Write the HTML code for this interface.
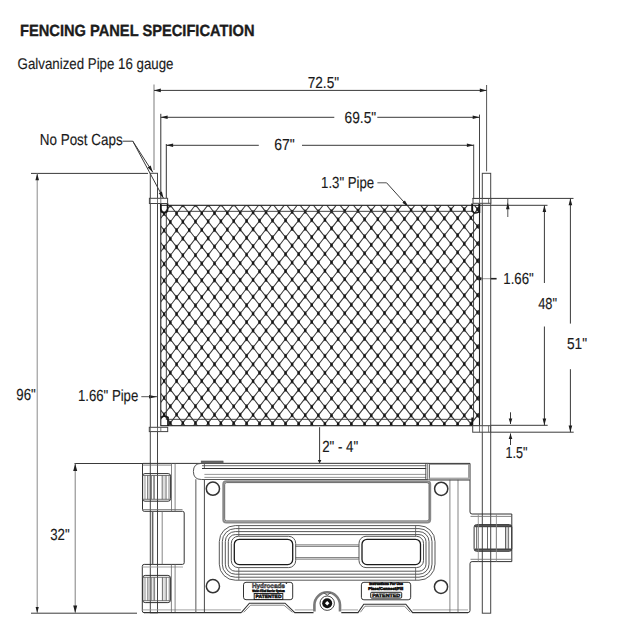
<!DOCTYPE html>
<html><head><meta charset="utf-8"><style>
html,body{margin:0;padding:0;background:#fff;}
svg{display:block;font-family:"Liberation Sans", sans-serif;}
</style></head><body>
<svg width="617" height="622" viewBox="0 0 617 622" text-rendering="geometricPrecision">
<rect width="617" height="622" fill="#fff"/>
<text x="20.00" y="36.00" font-size="16.2" font-weight="bold" fill="#1c1c1c" stroke="#1c1c1c" stroke-width="0.35" textLength="234.50" lengthAdjust="spacingAndGlyphs">FENCING PANEL SPECIFICATION</text>
<text x="17.60" y="68.60" font-size="15.5" font-weight="normal" fill="#1c1c1c" stroke="#1c1c1c" stroke-width="0.15" textLength="155.90" lengthAdjust="spacingAndGlyphs">Galvanized Pipe 16 gauge</text>
<text x="307.80" y="87.70" font-size="16.0" font-weight="normal" fill="#1a1a1a" stroke="#1a1a1a" stroke-width="0.15" textLength="31.20" lengthAdjust="spacingAndGlyphs">72.5&quot;</text>
<text x="344.60" y="122.70" font-size="16.0" font-weight="normal" fill="#1a1a1a" stroke="#1a1a1a" stroke-width="0.15" textLength="31.60" lengthAdjust="spacingAndGlyphs">69.5&quot;</text>
<text x="274.30" y="149.60" font-size="16.0" font-weight="normal" fill="#1a1a1a" stroke="#1a1a1a" stroke-width="0.15" textLength="20.50" lengthAdjust="spacingAndGlyphs">67&quot;</text>
<text x="39.80" y="145.40" font-size="16.0" font-weight="normal" fill="#1a1a1a" stroke="#1a1a1a" stroke-width="0.15" textLength="82.80" lengthAdjust="spacingAndGlyphs">No Post Caps</text>
<text x="321.10" y="188.10" font-size="16.0" font-weight="normal" fill="#1a1a1a" stroke="#1a1a1a" stroke-width="0.15" textLength="53.10" lengthAdjust="spacingAndGlyphs">1.3&quot; Pipe</text>
<text x="503.30" y="284.10" font-size="16.0" font-weight="normal" fill="#1a1a1a" stroke="#1a1a1a" stroke-width="0.15" textLength="30.50" lengthAdjust="spacingAndGlyphs">1.66&quot;</text>
<text x="538.20" y="308.50" font-size="16.0" font-weight="normal" fill="#1a1a1a" stroke="#1a1a1a" stroke-width="0.15" textLength="18.80" lengthAdjust="spacingAndGlyphs">48&quot;</text>
<text x="567.00" y="348.90" font-size="16.0" font-weight="normal" fill="#1a1a1a" stroke="#1a1a1a" stroke-width="0.15" textLength="20.10" lengthAdjust="spacingAndGlyphs">51&quot;</text>
<text x="16.30" y="399.70" font-size="16.0" font-weight="normal" fill="#1a1a1a" stroke="#1a1a1a" stroke-width="0.15" textLength="19.50" lengthAdjust="spacingAndGlyphs">96&quot;</text>
<text x="77.90" y="401.30" font-size="16.0" font-weight="normal" fill="#1a1a1a" stroke="#1a1a1a" stroke-width="0.15" textLength="60.40" lengthAdjust="spacingAndGlyphs">1.66&quot; Pipe</text>
<text x="322.20" y="451.80" font-size="16.0" font-weight="normal" fill="#1a1a1a" stroke="#1a1a1a" stroke-width="0.15" textLength="36.00" lengthAdjust="spacingAndGlyphs">2&quot; - 4&quot;</text>
<text x="505.60" y="457.50" font-size="16.0" font-weight="normal" fill="#1a1a1a" stroke="#1a1a1a" stroke-width="0.15" textLength="22.00" lengthAdjust="spacingAndGlyphs">1.5&quot;</text>
<text x="50.20" y="539.70" font-size="16.0" font-weight="normal" fill="#1a1a1a" stroke="#1a1a1a" stroke-width="0.15" textLength="19.40" lengthAdjust="spacingAndGlyphs">32&quot;</text>
<line x1="154.00" y1="84.60" x2="154.00" y2="170.00" stroke="#9a9a9a" stroke-width="1.3" />
<line x1="486.60" y1="85.00" x2="486.60" y2="171.30" stroke="#555" stroke-width="1.0" />
<line x1="154.00" y1="90.40" x2="486.60" y2="90.40" stroke="#3a3a3a" stroke-width="1.0" />
<polygon points="154.00,90.40 160.80,88.60 160.80,92.20" fill="#1e1e1e"/>
<polygon points="486.60,90.40 479.80,92.20 479.80,88.60" fill="#1e1e1e"/>
<line x1="160.80" y1="113.80" x2="160.80" y2="198.30" stroke="#333" stroke-width="1.0" />
<line x1="479.50" y1="114.60" x2="479.50" y2="198.50" stroke="#444" stroke-width="1.0" />
<line x1="160.80" y1="117.30" x2="334.30" y2="117.30" stroke="#3a3a3a" stroke-width="1.0" />
<line x1="377.30" y1="117.30" x2="479.50" y2="117.30" stroke="#3a3a3a" stroke-width="1.0" />
<polygon points="160.80,117.30 167.60,115.50 167.60,119.10" fill="#1e1e1e"/>
<polygon points="479.50,117.30 472.70,119.10 472.70,115.50" fill="#1e1e1e"/>
<line x1="166.30" y1="144.00" x2="166.30" y2="198.30" stroke="#333" stroke-width="1.0" />
<line x1="473.70" y1="144.50" x2="473.70" y2="198.50" stroke="#444" stroke-width="1.0" />
<line x1="166.30" y1="145.30" x2="258.80" y2="145.30" stroke="#3a3a3a" stroke-width="1.0" />
<line x1="302.00" y1="145.30" x2="473.70" y2="145.30" stroke="#3a3a3a" stroke-width="1.0" />
<polygon points="166.30,145.30 173.10,143.50 173.10,147.10" fill="#1e1e1e"/>
<polygon points="473.70,145.30 466.90,147.10 466.90,143.50" fill="#1e1e1e"/>
<line x1="31.00" y1="173.40" x2="148.00" y2="173.40" stroke="#3a3a3a" stroke-width="1.0" />
<line x1="37.20" y1="173.40" x2="37.20" y2="612.80" stroke="#8a8a8a" stroke-width="1.0" />
<polygon points="37.20,173.40 39.00,180.20 35.40,180.20" fill="#1e1e1e"/>
<polygon points="37.20,613.00 35.60,607.00 38.80,607.00" fill="#1e1e1e"/>
<line x1="31.00" y1="613.20" x2="137.00" y2="613.20" stroke="#3a3a3a" stroke-width="1.0" />
<line x1="74.50" y1="463.50" x2="143.00" y2="463.50" stroke="#3a3a3a" stroke-width="1.0" />
<line x1="75.20" y1="463.50" x2="75.20" y2="612.80" stroke="#808080" stroke-width="1.0" />
<polygon points="75.20,463.50 77.20,471.00 73.20,471.00" fill="#1e1e1e"/>
<polygon points="75.20,613.00 73.20,605.50 77.20,605.50" fill="#1e1e1e"/>
<line x1="479.00" y1="205.30" x2="547.50" y2="205.30" stroke="#3a3a3a" stroke-width="1.0" />
<line x1="490.60" y1="425.30" x2="547.70" y2="425.30" stroke="#3a3a3a" stroke-width="1.0" />
<line x1="544.40" y1="205.30" x2="544.40" y2="283.00" stroke="#3a3a3a" stroke-width="1.0" />
<line x1="544.40" y1="326.50" x2="544.40" y2="425.30" stroke="#3a3a3a" stroke-width="1.0" />
<polygon points="544.40,205.30 546.20,212.10 542.60,212.10" fill="#1e1e1e"/>
<polygon points="544.40,425.30 542.60,418.50 546.20,418.50" fill="#1e1e1e"/>
<line x1="472.50" y1="198.40" x2="573.50" y2="198.40" stroke="#3a3a3a" stroke-width="1.0" />
<line x1="490.60" y1="432.20" x2="573.70" y2="432.20" stroke="#3a3a3a" stroke-width="1.0" />
<line x1="570.40" y1="198.40" x2="570.40" y2="323.60" stroke="#3a3a3a" stroke-width="1.0" />
<line x1="570.40" y1="369.20" x2="570.40" y2="432.20" stroke="#3a3a3a" stroke-width="1.0" />
<polygon points="570.40,198.40 572.20,205.20 568.60,205.20" fill="#1e1e1e"/>
<polygon points="570.40,432.20 568.60,425.40 572.20,425.40" fill="#1e1e1e"/>
<line x1="507.80" y1="199.00" x2="507.80" y2="217.00" stroke="#555" stroke-width="1.0" />
<polygon points="507.80,202.50 509.60,209.30 506.00,209.30" fill="#1e1e1e"/>
<line x1="510.50" y1="412.30" x2="510.50" y2="424.00" stroke="#3a3a3a" stroke-width="1.0" />
<polygon points="510.50,424.00 508.70,418.50 512.30,418.50" fill="#1e1e1e"/>
<line x1="510.50" y1="433.50" x2="510.50" y2="445.00" stroke="#3a3a3a" stroke-width="1.0" />
<polygon points="510.50,433.50 512.30,439.00 508.70,439.00" fill="#1e1e1e"/>
<line x1="480.50" y1="278.70" x2="490.40" y2="278.70" stroke="#999" stroke-width="1.0" />
<line x1="490.40" y1="278.70" x2="496.60" y2="278.70" stroke="#222" stroke-width="1.6" />
<polygon points="476.40,278.70 481.40,276.90 481.40,280.50" fill="#1e1e1e"/>
<line x1="141.30" y1="396.70" x2="157.00" y2="396.70" stroke="#555" stroke-width="1.0" />
<polygon points="157.00,396.70 149.00,398.40 149.00,395.00" fill="#1e1e1e"/>
<line x1="122.50" y1="141.20" x2="132.80" y2="141.20" stroke="#3a3a3a" stroke-width="1.0" />
<line x1="132.80" y1="141.20" x2="152.80" y2="172.30" stroke="#3a3a3a" stroke-width="1.0" />
<polygon points="152.80,172.30 147.61,167.55 150.64,165.61" fill="#1e1e1e"/>
<line x1="132.80" y1="141.20" x2="163.50" y2="198.30" stroke="#3a3a3a" stroke-width="1.0" />
<polygon points="163.50,198.30 158.69,193.16 161.87,191.46" fill="#1e1e1e"/>
<line x1="377.40" y1="182.80" x2="386.60" y2="182.80" stroke="#555" stroke-width="1.0" />
<line x1="386.60" y1="182.80" x2="409.00" y2="207.60" stroke="#3a3a3a" stroke-width="1.0" />
<polygon points="409.00,207.60 402.38,202.80 404.90,200.52" fill="#1e1e1e"/>
<line x1="319.60" y1="427.20" x2="319.60" y2="462.00" stroke="#3a3a3a" stroke-width="1.0" />
<polygon points="319.60,463.40 317.80,460.00 321.40,460.00" fill="#1e1e1e"/>
<clipPath id="mc"><rect x="160.8" y="205.3" width="318.7" height="220.39999999999998"/></clipPath>
<rect x="160.8" y="205.3" width="318.7" height="220.39999999999998" fill="#383838"/>
<path d="M164.10 200.67L167.46 205.17L164.10 209.76L160.77 205.26ZM176.59 200.48L179.97 204.99L176.59 209.60L173.22 205.08ZM189.15 200.28L192.57 204.81L189.15 209.43L185.75 204.91ZM201.80 200.09L205.25 204.63L201.80 209.27L198.37 204.73ZM214.51 199.89L217.99 204.45L214.51 209.10L211.05 204.55ZM227.30 199.70L230.80 204.27L227.30 208.93L223.81 204.37ZM240.14 199.51L243.68 204.08L240.14 208.76L236.63 204.18ZM253.05 199.31L256.61 203.90L253.05 208.59L249.51 204.00ZM266.02 199.12L269.59 203.72L266.02 208.42L262.45 203.82ZM279.03 198.92L282.63 203.53L279.03 208.24L275.45 203.63ZM292.09 198.73L295.71 203.34L292.09 208.06L288.49 203.45ZM305.20 198.54L308.83 203.16L305.20 207.88L301.58 203.26ZM318.34 198.34L321.99 202.97L318.34 207.70L314.71 203.08ZM331.52 198.15L335.18 202.78L331.52 207.52L327.87 202.89ZM344.73 197.96L348.40 202.60L344.73 207.34L341.07 202.70ZM357.96 197.77L361.64 202.41L357.96 207.16L354.29 202.51ZM371.22 197.57L374.90 202.22L371.22 206.97L367.54 202.32ZM384.49 197.38L388.18 202.03L384.49 206.79L380.80 202.14ZM397.78 197.19L401.47 201.84L397.78 206.60L394.08 201.95ZM411.07 197.00L414.77 201.65L411.07 206.41L407.37 201.76ZM424.37 196.81L428.07 201.47L424.37 206.22L420.67 201.57ZM437.67 196.63L441.37 201.28L437.67 206.03L433.97 201.38ZM450.96 196.44L454.66 201.09L450.96 205.84L447.27 201.19ZM464.25 196.25L467.94 200.90L464.25 205.65L460.56 201.00ZM477.53 196.06L481.21 200.71L477.53 205.46L473.84 200.82ZM157.89 209.23L161.23 213.71L157.89 218.25L154.58 213.81ZM170.34 209.03L173.70 213.54L170.34 218.09L166.99 213.63ZM182.86 208.84L186.26 213.36L182.86 217.93L179.48 213.45ZM195.47 208.64L198.90 213.18L195.47 217.77L192.05 213.27ZM208.15 208.45L211.61 213.00L208.15 217.61L204.70 213.10ZM220.90 208.26L224.39 212.82L220.90 217.45L217.42 212.91ZM233.71 208.06L237.23 212.63L233.71 217.29L230.21 212.73ZM246.59 207.87L250.13 212.45L246.59 217.12L243.06 212.55ZM259.53 207.67L263.09 212.27L259.53 216.95L255.98 212.37ZM272.52 207.48L276.10 212.08L272.52 216.78L268.94 212.18ZM285.56 207.29L289.16 211.90L285.56 216.61L281.96 212.00ZM298.64 207.09L302.26 211.71L298.64 216.44L295.03 211.81ZM311.77 206.90L315.40 211.52L311.77 216.27L308.14 211.63ZM324.93 206.71L328.58 211.34L324.93 216.09L321.28 211.44ZM338.12 206.51L341.78 211.15L338.12 215.92L334.46 211.25ZM351.34 206.32L355.02 210.96L351.34 215.74L347.67 211.07ZM364.59 206.13L368.27 210.77L364.59 215.56L360.91 210.88ZM377.85 205.94L381.54 210.58L377.85 215.38L374.17 210.69ZM391.13 205.75L394.83 210.40L391.13 215.20L387.44 210.50ZM404.42 205.56L408.12 210.21L404.42 215.01L400.73 210.31ZM417.72 205.37L421.42 210.02L417.72 214.83L414.02 210.12ZM431.02 205.18L434.72 209.83L431.02 214.65L427.32 209.93ZM444.32 204.99L448.01 209.64L444.32 214.46L440.62 209.75ZM457.61 204.80L461.30 209.45L457.61 214.28L453.91 209.56ZM470.89 204.62L474.58 209.26L470.89 214.09L467.20 209.37ZM484.16 204.43L487.84 209.07L484.16 213.90L480.47 209.18ZM164.10 217.55L167.46 222.00L164.10 226.54L160.77 222.09ZM176.59 217.36L179.97 221.83L176.59 226.39L173.22 221.92ZM189.15 217.17L192.57 221.66L189.15 226.24L185.75 221.75ZM201.80 216.98L205.25 221.48L201.80 226.09L198.37 221.58ZM214.51 216.79L217.99 221.31L214.51 225.94L211.05 221.41ZM227.30 216.60L230.80 221.14L227.30 225.78L223.81 221.24ZM240.14 216.41L243.68 220.97L240.14 225.63L236.63 221.07ZM253.05 216.22L256.61 220.80L253.05 225.47L249.51 220.89ZM266.02 216.03L269.59 220.63L266.02 225.32L262.45 220.72ZM279.03 215.84L282.63 220.45L279.03 225.16L275.45 220.55ZM292.09 215.65L295.71 220.28L292.09 225.00L288.49 220.37ZM305.20 215.46L308.83 220.10L305.20 224.84L301.58 220.20ZM318.34 215.28L321.99 219.93L318.34 224.67L314.71 220.02ZM331.52 215.09L335.18 219.75L331.52 224.51L327.87 219.85ZM344.73 214.90L348.40 219.57L344.73 224.34L341.07 219.67ZM357.96 214.71L361.64 219.39L357.96 224.17L354.29 219.49ZM371.22 214.52L374.90 219.21L371.22 224.00L367.54 219.31ZM384.49 214.34L388.18 219.03L384.49 223.83L380.80 219.13ZM397.78 214.15L401.47 218.85L397.78 223.65L394.08 218.95ZM411.07 213.96L414.77 218.67L411.07 223.48L407.37 218.77ZM424.37 213.78L428.07 218.49L424.37 223.30L420.67 218.59ZM437.67 213.59L441.37 218.31L437.67 223.13L433.97 218.41ZM450.96 213.41L454.66 218.13L450.96 222.95L447.27 218.23ZM464.25 213.22L467.94 217.95L464.25 222.77L460.56 218.05ZM477.53 213.04L481.21 217.77L477.53 222.59L473.84 217.87ZM157.89 226.01L161.23 230.45L157.89 234.98L154.58 230.54ZM170.34 225.83L173.70 230.29L170.34 234.84L166.99 230.38ZM182.86 225.64L186.26 230.13L182.86 234.70L179.48 230.21ZM195.47 225.46L198.90 229.96L195.47 234.55L192.05 230.05ZM208.15 225.28L211.61 229.80L208.15 234.41L204.70 229.89ZM220.90 225.10L224.39 229.64L220.90 234.27L217.42 229.73ZM233.71 224.92L237.23 229.48L233.71 234.13L230.21 229.57ZM246.59 224.75L250.13 229.32L246.59 233.98L243.06 229.41ZM259.53 224.57L263.09 229.16L259.53 233.84L255.98 229.25ZM272.52 224.39L276.10 229.00L272.52 233.69L268.94 229.08ZM285.56 224.21L289.16 228.83L285.56 233.54L281.96 228.92ZM298.64 224.03L302.26 228.67L298.64 233.39L295.03 228.76ZM311.77 223.86L315.40 228.50L311.77 233.24L308.14 228.59ZM324.93 223.68L328.58 228.34L324.93 233.09L321.28 228.43ZM338.12 223.50L341.78 228.17L338.12 232.94L334.46 228.26ZM351.34 223.33L355.02 228.01L351.34 232.78L347.67 228.10ZM364.59 223.15L368.27 227.83L364.59 232.62L360.91 227.93ZM377.85 222.97L381.54 227.66L377.85 232.45L374.17 227.76ZM391.13 222.79L394.83 227.49L391.13 232.28L387.44 227.58ZM404.42 222.61L408.12 227.31L404.42 232.12L400.73 227.41ZM417.72 222.43L421.42 227.14L417.72 231.95L414.02 227.24ZM431.02 222.25L434.72 226.97L431.02 231.78L427.32 227.06ZM444.32 222.07L448.01 226.79L444.32 231.61L440.62 226.89ZM457.61 221.90L461.30 226.62L457.61 231.44L453.91 226.72ZM470.89 221.72L474.58 226.45L470.89 231.27L467.20 226.54ZM484.16 221.55L487.84 226.28L484.16 231.10L480.47 226.37ZM164.10 234.29L167.46 238.75L164.10 243.28L160.77 238.83ZM176.59 234.11L179.97 238.59L176.59 243.15L173.22 238.67ZM189.15 233.94L192.57 238.43L189.15 243.01L185.75 238.52ZM201.80 233.76L205.25 238.28L201.80 242.88L198.37 238.36ZM214.51 233.60L217.99 238.13L214.51 242.75L211.05 238.21ZM227.30 233.43L230.80 237.98L227.30 242.62L223.81 238.06ZM240.14 233.26L243.68 237.83L240.14 242.48L236.63 237.91ZM253.05 233.09L256.61 237.68L253.05 242.35L249.51 237.76ZM266.02 232.93L269.59 237.53L266.02 242.21L262.45 237.61ZM279.03 232.76L282.63 237.38L279.03 242.08L275.45 237.46ZM292.09 232.59L295.71 237.22L292.09 241.94L288.49 237.31ZM305.20 232.43L308.83 237.07L305.20 241.80L301.58 237.15ZM318.34 232.26L321.99 236.92L318.34 241.66L314.71 237.00ZM331.52 232.09L335.18 236.76L331.52 241.52L327.87 236.85ZM344.73 231.93L348.40 236.61L344.73 241.37L341.07 236.69ZM357.96 231.76L361.64 236.44L357.96 241.22L354.29 236.54ZM371.22 231.59L374.90 236.28L371.22 241.07L367.54 236.37ZM384.49 231.41L388.18 236.12L384.49 240.91L380.80 236.21ZM397.78 231.24L401.47 235.95L397.78 240.75L394.08 236.04ZM411.07 231.07L414.77 235.78L411.07 240.59L407.37 235.88ZM424.37 230.90L428.07 235.62L424.37 240.43L420.67 235.71ZM437.67 230.73L441.37 235.45L437.67 240.27L433.97 235.55ZM450.96 230.56L454.66 235.29L450.96 240.11L447.27 235.38ZM464.25 230.40L467.94 235.12L464.25 239.94L460.56 235.22ZM477.53 230.23L481.21 234.96L477.53 239.78L473.84 235.05ZM157.89 242.75L161.23 247.19L157.89 251.72L154.58 247.27ZM170.34 242.58L173.70 247.04L170.34 251.59L166.99 247.12ZM182.86 242.41L186.26 246.90L182.86 251.46L179.48 246.98ZM195.47 242.24L198.90 246.75L195.47 251.33L192.05 246.83ZM208.15 242.08L211.61 246.61L208.15 251.21L204.70 246.68ZM220.90 241.92L224.39 246.47L220.90 251.09L217.42 246.54ZM233.71 241.77L237.23 246.33L233.71 250.97L230.21 246.41ZM246.59 241.61L250.13 246.19L246.59 250.85L243.06 246.27ZM259.53 241.45L263.09 246.05L259.53 250.72L255.98 246.13ZM272.52 241.30L276.10 245.91L272.52 250.60L268.94 245.99ZM285.56 241.14L289.16 245.77L285.56 250.47L281.96 245.85ZM298.64 240.99L302.26 245.63L298.64 250.34L295.03 245.70ZM311.77 240.83L315.40 245.48L311.77 250.22L308.14 245.56ZM324.93 240.68L328.58 245.34L324.93 250.09L321.28 245.42ZM338.12 240.52L341.78 245.20L338.12 249.95L334.46 245.28ZM351.34 240.37L355.02 245.05L351.34 249.82L347.67 245.13ZM364.59 240.20L368.27 244.89L364.59 249.67L360.91 244.98ZM377.85 240.04L381.54 244.74L377.85 249.52L374.17 244.82ZM391.13 239.87L394.83 244.58L391.13 249.37L387.44 244.67ZM404.42 239.71L408.12 244.42L404.42 249.22L400.73 244.51ZM417.72 239.55L421.42 244.26L417.72 249.07L414.02 244.35ZM431.02 239.38L434.72 244.11L431.02 248.91L427.32 244.19ZM444.32 239.22L448.01 243.95L444.32 248.76L440.62 244.04ZM457.61 239.06L461.30 243.79L457.61 248.61L453.91 243.88ZM470.89 238.90L474.58 243.63L470.89 248.45L467.20 243.72ZM484.16 238.75L487.84 243.48L484.16 248.30L480.47 243.56ZM164.10 251.03L167.46 255.49L164.10 260.03L160.77 255.57ZM176.59 250.87L179.97 255.35L176.59 259.91L173.22 255.43ZM189.15 250.71L192.57 255.21L189.15 259.79L185.75 255.29ZM201.80 250.55L205.25 255.07L201.80 259.66L198.37 255.14ZM214.51 250.41L217.99 254.95L214.51 259.56L211.05 255.02ZM227.30 250.26L230.80 254.82L227.30 259.45L223.81 254.89ZM240.14 250.11L243.68 254.69L240.14 259.34L236.63 254.76ZM253.05 249.97L256.61 254.56L253.05 259.22L249.51 254.63ZM266.02 249.82L269.59 254.43L266.02 259.11L262.45 254.50ZM279.03 249.68L282.63 254.30L279.03 259.00L275.45 254.37ZM292.09 249.53L295.71 254.17L292.09 258.88L288.49 254.24ZM305.20 249.39L308.83 254.04L305.20 258.76L301.58 254.11ZM318.34 249.25L321.99 253.91L318.34 258.64L314.71 253.98ZM331.52 249.10L335.18 253.78L331.52 258.52L327.87 253.85ZM344.73 248.96L348.40 253.64L344.73 258.40L341.07 253.72ZM357.96 248.81L361.64 253.50L357.96 258.27L354.29 253.58ZM371.22 248.65L374.90 253.35L371.22 258.13L367.54 253.43ZM384.49 248.49L388.18 253.20L384.49 257.99L380.80 253.28ZM397.78 248.34L401.47 253.05L397.78 257.84L394.08 253.13ZM411.07 248.18L414.77 252.90L411.07 257.70L407.37 252.98ZM424.37 248.03L428.07 252.75L424.37 257.55L420.67 252.83ZM437.67 247.88L441.37 252.60L437.67 257.41L433.97 252.68ZM450.96 247.72L454.66 252.45L450.96 257.26L447.27 252.53ZM464.25 247.57L467.94 252.30L464.25 257.12L460.56 252.38ZM477.53 247.42L481.21 252.15L477.53 256.97L473.84 252.24ZM157.89 259.48L161.23 263.93L157.89 268.45L154.58 264.00ZM170.34 259.33L173.70 263.80L170.34 268.34L166.99 263.87ZM182.86 259.18L186.26 263.67L182.86 268.23L179.48 263.74ZM195.47 259.02L198.90 263.53L195.47 268.11L192.05 263.60ZM208.15 258.88L211.61 263.41L208.15 268.01L204.70 263.48ZM220.90 258.74L224.39 263.30L220.90 267.91L217.42 263.36ZM233.71 258.61L237.23 263.18L233.71 267.81L230.21 263.24ZM246.59 258.47L250.13 263.06L246.59 267.71L243.06 263.13ZM259.53 258.34L263.09 262.94L259.53 267.61L255.98 263.01ZM272.52 258.20L276.10 262.82L272.52 267.51L268.94 262.89ZM285.56 258.07L289.16 262.70L285.56 267.40L281.96 262.77ZM298.64 257.94L302.26 262.58L298.64 267.30L295.03 262.65ZM311.77 257.80L315.40 262.46L311.77 267.19L308.14 262.53ZM324.93 257.67L328.58 262.34L324.93 267.08L321.28 262.41ZM338.12 257.54L341.78 262.22L338.12 266.97L334.46 262.29ZM351.34 257.41L355.02 262.09L351.34 266.86L347.67 262.17ZM364.59 257.26L368.27 261.95L364.59 266.73L360.91 262.03ZM377.85 257.11L381.54 261.81L377.85 266.59L374.17 261.89ZM391.13 256.96L394.83 261.67L391.13 266.46L387.44 261.75ZM404.42 256.81L408.12 261.53L404.42 266.32L400.73 261.61ZM417.72 256.67L421.42 261.39L417.72 266.19L414.02 261.47ZM431.02 256.52L434.72 261.24L431.02 266.05L427.32 261.32ZM444.32 256.37L448.01 261.10L444.32 265.91L440.62 261.18ZM457.61 256.23L461.30 260.96L457.61 265.77L453.91 261.04ZM470.89 256.09L474.58 260.82L470.89 265.63L467.20 260.90ZM484.16 255.94L487.84 260.68L484.16 265.49L480.47 260.76ZM164.10 267.78L167.46 272.24L164.10 276.77L160.77 272.31ZM176.59 267.63L179.97 272.11L176.59 276.66L173.22 272.18ZM189.15 267.49L192.57 271.99L189.15 276.56L185.75 272.06ZM201.80 267.34L205.25 271.87L201.80 276.45L198.37 271.93ZM214.51 267.22L217.99 271.76L214.51 276.37L211.05 271.82ZM227.30 267.09L230.80 271.66L227.30 276.28L223.81 271.71ZM240.14 266.97L243.68 271.55L240.14 276.19L236.63 271.61ZM253.05 266.84L256.61 271.44L253.05 276.10L249.51 271.50ZM266.02 266.72L269.59 271.33L266.02 276.01L262.45 271.39ZM279.03 266.60L282.63 271.23L279.03 275.91L275.45 271.29ZM292.09 266.47L295.71 271.12L292.09 275.82L288.49 271.18ZM305.20 266.35L308.83 271.01L305.20 275.72L301.58 271.07ZM318.34 266.23L321.99 270.90L318.34 275.63L314.71 270.96ZM331.52 266.11L335.18 270.79L331.52 275.53L327.87 270.85ZM344.73 265.99L348.40 270.68L344.73 275.43L341.07 270.74ZM357.96 265.85L361.64 270.55L357.96 275.32L354.29 270.62ZM371.22 265.71L374.90 270.42L371.22 275.19L367.54 270.49ZM384.49 265.57L388.18 270.28L384.49 275.07L380.80 270.36ZM397.78 265.43L401.47 270.15L397.78 274.94L394.08 270.22ZM411.07 265.29L414.77 270.01L411.07 274.81L407.37 270.09ZM424.37 265.16L428.07 269.88L424.37 274.68L420.67 269.96ZM437.67 265.02L441.37 269.75L437.67 274.55L433.97 269.82ZM450.96 264.88L454.66 269.61L450.96 274.42L447.27 269.69ZM464.25 264.74L467.94 269.48L464.25 274.29L460.56 269.55ZM477.53 264.61L481.21 269.35L477.53 274.16L473.84 269.42ZM157.89 276.22L161.23 280.67L157.89 285.19L154.58 280.74ZM170.34 276.08L173.70 280.55L170.34 285.09L166.99 280.62ZM182.86 275.94L186.26 280.44L182.86 284.99L179.48 280.50ZM195.47 275.80L198.90 280.32L195.47 284.89L192.05 280.38ZM208.15 275.68L211.61 280.22L208.15 284.81L204.70 280.27ZM220.90 275.57L224.39 280.12L220.90 284.73L217.42 280.18ZM233.71 275.45L237.23 280.03L233.71 284.66L230.21 280.08ZM246.59 275.34L250.13 279.93L246.59 284.58L243.06 279.98ZM259.53 275.23L263.09 279.83L259.53 284.50L255.98 279.89ZM272.52 275.11L276.10 279.74L272.52 284.42L268.94 279.79ZM285.56 275.00L289.16 279.64L285.56 284.33L281.96 279.69ZM298.64 274.89L302.26 279.54L298.64 284.25L295.03 279.60ZM311.77 274.78L315.40 279.44L311.77 284.16L308.14 279.50ZM324.93 274.67L328.58 279.35L324.93 284.08L321.28 279.40ZM338.12 274.56L341.78 279.25L338.12 283.99L334.46 279.30ZM351.34 274.45L355.02 279.14L351.34 283.90L347.67 279.20ZM364.59 274.31L368.27 279.01L364.59 283.78L360.91 279.08ZM377.85 274.18L381.54 278.89L377.85 283.66L374.17 278.96ZM391.13 274.05L394.83 278.76L391.13 283.55L387.44 278.83ZM404.42 273.91L408.12 278.64L404.42 283.43L400.73 278.71ZM417.72 273.78L421.42 278.51L417.72 283.30L414.02 278.58ZM431.02 273.65L434.72 278.38L431.02 283.18L427.32 278.45ZM444.32 273.52L448.01 278.26L444.32 283.06L440.62 278.33ZM457.61 273.40L461.30 278.13L457.61 282.94L453.91 278.20ZM470.89 273.27L474.58 278.01L470.89 282.81L467.20 278.08ZM484.16 273.14L487.84 277.88L484.16 282.69L480.47 277.95ZM164.10 284.52L167.46 288.99L164.10 293.51L160.77 289.05ZM176.59 284.39L179.97 288.88L176.59 293.42L173.22 288.94ZM189.15 284.26L192.57 288.76L189.15 293.33L185.75 288.82ZM201.80 284.13L205.25 288.66L201.80 293.24L198.37 288.71ZM214.51 284.03L217.99 288.58L214.51 293.18L211.05 288.63ZM227.30 283.92L230.80 288.49L227.30 293.11L223.81 288.54ZM240.14 283.82L243.68 288.41L240.14 293.04L236.63 288.46ZM253.05 283.72L256.61 288.32L253.05 292.97L249.51 288.37ZM266.02 283.62L269.59 288.24L266.02 292.90L262.45 288.28ZM279.03 283.52L282.63 288.15L279.03 292.83L275.45 288.20ZM292.09 283.42L295.71 288.06L292.09 292.76L288.49 288.11ZM305.20 283.31L308.83 287.98L305.20 292.69L301.58 288.03ZM318.34 283.22L321.99 287.89L318.34 292.61L314.71 287.94ZM331.52 283.12L335.18 287.80L331.52 292.54L327.87 287.85ZM344.73 283.02L348.40 287.72L344.73 292.46L341.07 287.76ZM357.96 282.90L361.64 287.60L357.96 292.37L354.29 287.67ZM371.22 282.78L374.90 287.48L371.22 292.26L367.54 287.55ZM384.49 282.65L388.18 287.37L384.49 292.14L380.80 287.43ZM397.78 282.53L401.47 287.25L397.78 292.03L394.08 287.31ZM411.07 282.40L414.77 287.13L411.07 291.92L407.37 287.20ZM424.37 282.28L428.07 287.01L424.37 291.81L420.67 287.08ZM437.67 282.16L441.37 286.89L437.67 291.69L433.97 286.96ZM450.96 282.04L454.66 286.78L450.96 291.58L447.27 286.84ZM464.25 281.92L467.94 286.66L464.25 291.46L460.56 286.72ZM477.53 281.80L481.21 286.54L477.53 291.35L473.84 286.61ZM157.89 292.95L161.23 297.41L157.89 301.93L154.58 297.47ZM170.34 292.83L173.70 297.31L170.34 301.84L166.99 297.36ZM182.86 292.71L186.26 297.20L182.86 301.76L179.48 297.26ZM195.47 292.58L198.90 297.10L195.47 301.67L192.05 297.16ZM208.15 292.48L211.61 297.02L208.15 301.61L204.70 297.06ZM220.90 292.39L224.39 296.95L220.90 301.55L217.42 296.99ZM233.71 292.29L237.23 296.88L233.71 301.50L230.21 296.92ZM246.59 292.20L250.13 296.80L246.59 301.44L243.06 296.84ZM259.53 292.11L263.09 296.73L259.53 301.38L255.98 296.77ZM272.52 292.02L276.10 296.65L272.52 301.32L268.94 296.69ZM285.56 291.93L289.16 296.58L285.56 301.26L281.96 296.62ZM298.64 291.84L302.26 296.50L298.64 301.20L295.03 296.54ZM311.77 291.75L315.40 296.42L311.77 301.14L308.14 296.47ZM324.93 291.66L328.58 296.35L324.93 301.07L321.28 296.39ZM338.12 291.58L341.78 296.27L338.12 301.01L334.46 296.31ZM351.34 291.49L355.02 296.18L351.34 300.94L347.67 296.24ZM364.59 291.37L368.27 296.07L364.59 300.84L360.91 296.13ZM377.85 291.25L381.54 295.96L377.85 300.74L374.17 296.02ZM391.13 291.13L394.83 295.85L391.13 300.63L387.44 295.91ZM404.42 291.02L408.12 295.74L404.42 300.53L400.73 295.80ZM417.72 290.90L421.42 295.63L417.72 300.42L414.02 295.69ZM431.02 290.79L434.72 295.52L431.02 300.32L427.32 295.58ZM444.32 290.67L448.01 295.41L444.32 300.21L440.62 295.47ZM457.61 290.56L461.30 295.30L457.61 300.10L453.91 295.36ZM470.89 290.45L474.58 295.19L470.89 300.00L467.20 295.25ZM484.16 290.34L487.84 295.08L484.16 299.89L480.47 295.14ZM164.10 301.26L167.46 305.73L164.10 310.26L160.77 305.79ZM176.59 301.15L179.97 305.64L176.59 310.18L173.22 305.69ZM189.15 301.03L192.57 305.54L189.15 310.10L185.75 305.59ZM201.80 300.92L205.25 305.46L201.80 310.03L198.37 305.50ZM214.51 300.84L217.99 305.40L214.51 309.99L211.05 305.43ZM227.30 300.76L230.80 305.33L227.30 309.94L223.81 305.37ZM240.14 300.67L243.68 305.27L240.14 309.90L236.63 305.30ZM253.05 300.59L256.61 305.20L253.05 309.85L249.51 305.24ZM266.02 300.51L269.59 305.14L266.02 309.80L262.45 305.18ZM279.03 300.43L282.63 305.08L279.03 309.75L275.45 305.11ZM292.09 300.36L295.71 305.01L292.09 309.70L288.49 305.05ZM305.20 300.28L308.83 304.95L305.20 309.65L301.58 304.98ZM318.34 300.20L321.99 304.88L318.34 309.60L314.71 304.92ZM331.52 300.12L335.18 304.82L331.52 309.55L327.87 304.85ZM344.73 300.05L348.40 304.75L344.73 309.49L341.07 304.79ZM357.96 299.95L361.64 304.65L357.96 309.41L354.29 304.71ZM371.22 299.84L374.90 304.55L371.22 309.32L367.54 304.61ZM384.49 299.73L388.18 304.45L384.49 309.22L380.80 304.51ZM397.78 299.62L401.47 304.35L397.78 309.13L394.08 304.40ZM411.07 299.51L414.77 304.24L411.07 309.03L407.37 304.30ZM424.37 299.41L428.07 304.14L424.37 308.93L420.67 304.20ZM437.67 299.30L441.37 304.04L437.67 308.84L433.97 304.10ZM450.96 299.20L454.66 303.94L450.96 308.74L447.27 303.99ZM464.25 299.09L467.94 303.84L464.25 308.64L460.56 303.89ZM477.53 298.99L481.21 303.73L477.53 308.54L473.84 303.79ZM157.89 309.69L161.23 314.15L157.89 318.66L154.58 314.20ZM170.34 309.58L173.70 314.06L170.34 318.59L166.99 314.11ZM182.86 309.47L186.26 313.97L182.86 318.53L179.48 314.02ZM195.47 309.36L198.90 313.88L195.47 318.46L192.05 313.93ZM208.15 309.28L211.61 313.83L208.15 318.41L204.70 313.86ZM220.90 309.21L224.39 313.78L220.90 318.38L217.42 313.81ZM233.71 309.14L237.23 313.72L233.71 318.34L230.21 313.75ZM246.59 309.07L250.13 313.67L246.59 318.31L243.06 313.70ZM259.53 309.00L263.09 313.62L259.53 318.27L255.98 313.65ZM272.52 308.93L276.10 313.56L272.52 318.23L268.94 313.59ZM285.56 308.86L289.16 313.51L285.56 318.19L281.96 313.54ZM298.64 308.79L302.26 313.46L298.64 318.15L295.03 313.49ZM311.77 308.73L315.40 313.40L311.77 318.11L308.14 313.43ZM324.93 308.66L328.58 313.35L324.93 318.07L321.28 313.38ZM338.12 308.59L341.78 313.30L338.12 318.03L334.46 313.33ZM351.34 308.53L355.02 313.23L351.34 317.98L347.67 313.27ZM364.59 308.42L368.27 313.13L364.59 317.89L360.91 313.18ZM377.85 308.32L381.54 313.04L377.85 317.81L374.17 313.09ZM391.13 308.22L394.83 312.94L391.13 317.72L387.44 313.00ZM404.42 308.12L408.12 312.85L404.42 317.63L400.73 312.90ZM417.72 308.02L421.42 312.75L417.72 317.54L414.02 312.81ZM431.02 307.92L434.72 312.66L431.02 317.45L427.32 312.71ZM444.32 307.82L448.01 312.57L444.32 317.36L440.62 312.62ZM457.61 307.73L461.30 312.47L457.61 317.27L453.91 312.52ZM470.89 307.63L474.58 312.38L470.89 317.18L467.20 312.43ZM484.16 307.53L487.84 312.28L484.16 317.08L480.47 312.34ZM164.10 318.01L167.46 322.48L164.10 327.00L160.77 322.53ZM176.59 317.91L179.97 322.40L176.59 326.94L173.22 322.44ZM189.15 317.80L192.57 322.32L189.15 326.88L185.75 322.36ZM201.80 317.71L205.25 322.25L201.80 326.82L198.37 322.28ZM214.51 317.65L217.99 322.21L214.51 326.80L211.05 322.23ZM227.30 317.59L230.80 322.17L227.30 326.77L223.81 322.19ZM240.14 317.53L243.68 322.13L240.14 326.75L236.63 322.15ZM253.05 317.47L256.61 322.09L253.05 326.72L249.51 322.11ZM266.02 317.41L269.59 322.04L266.02 326.70L262.45 322.07ZM279.03 317.35L282.63 322.00L279.03 326.67L275.45 322.02ZM292.09 317.30L295.71 321.96L292.09 326.64L288.49 321.98ZM305.20 317.24L308.83 321.92L305.20 326.61L301.58 321.94ZM318.34 317.19L321.99 321.87L318.34 326.58L314.71 321.90ZM331.52 317.13L335.18 321.83L331.52 326.55L327.87 321.85ZM344.73 317.08L348.40 321.79L344.73 326.52L341.07 321.81ZM357.96 317.00L361.64 321.71L357.96 326.46L354.29 321.75ZM371.22 316.90L374.90 321.62L371.22 326.38L367.54 321.67ZM384.49 316.81L388.18 321.53L384.49 326.30L380.80 321.58ZM397.78 316.72L401.47 321.45L397.78 326.22L394.08 321.49ZM411.07 316.63L414.77 321.36L411.07 326.14L407.37 321.41ZM424.37 316.53L428.07 321.27L424.37 326.06L420.67 321.32ZM437.67 316.44L441.37 321.19L437.67 325.98L433.97 321.23ZM450.96 316.35L454.66 321.10L450.96 325.89L447.27 321.15ZM464.25 316.26L467.94 321.01L464.25 325.81L460.56 321.06ZM477.53 316.18L481.21 320.93L477.53 325.73L473.84 320.98ZM157.89 326.43L161.23 330.89L157.89 335.40L154.58 330.93ZM170.34 326.33L173.70 330.82L170.34 335.35L166.99 330.86ZM182.86 326.24L186.26 330.74L182.86 335.29L179.48 330.78ZM195.47 326.14L198.90 330.67L195.47 335.24L192.05 330.71ZM208.15 326.08L211.61 330.63L208.15 335.21L204.70 330.65ZM220.90 326.03L224.39 330.60L220.90 335.20L217.42 330.62ZM233.71 325.98L237.23 330.57L233.71 335.18L230.21 330.59ZM246.59 325.93L250.13 330.54L246.59 335.17L243.06 330.56ZM259.53 325.88L263.09 330.51L259.53 335.15L255.98 330.53ZM272.52 325.84L276.10 330.48L272.52 335.14L268.94 330.50ZM285.56 325.79L289.16 330.45L285.56 335.12L281.96 330.46ZM298.64 325.74L302.26 330.42L298.64 335.10L295.03 330.43ZM311.77 325.70L315.40 330.38L311.77 335.09L308.14 330.40ZM324.93 325.66L328.58 330.35L324.93 335.07L321.28 330.37ZM338.12 325.61L341.78 330.32L338.12 335.05L334.46 330.34ZM351.34 325.57L355.02 330.27L351.34 335.02L347.67 330.31ZM364.59 325.48L368.27 330.19L364.59 334.95L360.91 330.24ZM377.85 325.39L381.54 330.11L377.85 334.88L374.17 330.16ZM391.13 325.31L394.83 330.04L391.13 334.81L387.44 330.08ZM404.42 325.22L408.12 329.96L404.42 334.73L400.73 330.00ZM417.72 325.14L421.42 329.88L417.72 334.66L414.02 329.92ZM431.02 325.06L434.72 329.80L431.02 334.59L427.32 329.84ZM444.32 324.97L448.01 329.72L444.32 334.51L440.62 329.76ZM457.61 324.89L461.30 329.64L457.61 334.44L453.91 329.69ZM470.89 324.81L474.58 329.56L470.89 334.36L467.20 329.61ZM484.16 324.73L487.84 329.48L484.16 334.28L480.47 329.53ZM164.10 334.75L167.46 339.23L164.10 343.74L160.77 339.26ZM176.59 334.66L179.97 339.16L176.59 343.70L173.22 339.20ZM189.15 334.58L192.57 339.10L189.15 343.65L185.75 339.13ZM201.80 334.50L205.25 339.05L201.80 343.61L198.37 339.06ZM214.51 334.46L217.99 339.03L214.51 343.61L211.05 339.04ZM227.30 334.42L230.80 339.01L227.30 343.61L223.81 339.02ZM240.14 334.38L243.68 338.99L240.14 343.60L236.63 339.00ZM253.05 334.34L256.61 338.97L253.05 343.60L249.51 338.98ZM266.02 334.31L269.59 338.95L266.02 343.60L262.45 338.96ZM279.03 334.27L282.63 338.93L279.03 343.59L275.45 338.94ZM292.09 334.24L295.71 338.91L292.09 343.58L288.49 338.92ZM305.20 334.20L308.83 338.88L305.20 343.58L301.58 338.90ZM318.34 334.17L321.99 338.86L318.34 343.57L314.71 338.88ZM331.52 334.14L335.18 338.84L331.52 343.56L327.87 338.85ZM344.73 334.11L348.40 338.82L344.73 343.55L341.07 338.83ZM357.96 334.05L361.64 338.76L357.96 343.51L354.29 338.80ZM371.22 333.97L374.90 338.69L371.22 343.45L367.54 338.73ZM384.49 333.89L388.18 338.62L384.49 343.38L380.80 338.66ZM397.78 333.81L401.47 338.55L397.78 343.32L394.08 338.58ZM411.07 333.74L414.77 338.47L411.07 343.25L407.37 338.51ZM424.37 333.66L428.07 338.40L424.37 343.19L420.67 338.44ZM437.67 333.59L441.37 338.33L437.67 343.12L433.97 338.37ZM450.96 333.51L454.66 338.26L450.96 343.05L447.27 338.30ZM464.25 333.44L467.94 338.19L464.25 342.98L460.56 338.23ZM477.53 333.37L481.21 338.12L477.53 342.91L473.84 338.16ZM157.89 343.16L161.23 347.63L157.89 352.13L154.58 347.66ZM170.34 343.08L173.70 347.57L170.34 352.10L166.99 347.60ZM182.86 343.00L186.26 347.51L182.86 352.06L179.48 347.55ZM195.47 342.92L198.90 347.45L195.47 352.02L192.05 347.49ZM208.15 342.88L211.61 347.44L208.15 352.01L204.70 347.45ZM220.90 342.85L224.39 347.43L220.90 352.02L217.42 347.44ZM233.71 342.82L237.23 347.42L233.71 352.03L230.21 347.43ZM246.59 342.80L250.13 347.41L246.59 352.03L243.06 347.42ZM259.53 342.77L263.09 347.40L259.53 352.04L255.98 347.41ZM272.52 342.74L276.10 347.39L272.52 352.05L268.94 347.40ZM285.56 342.72L289.16 347.38L285.56 352.05L281.96 347.39ZM298.64 342.70L302.26 347.37L298.64 352.06L295.03 347.38ZM311.77 342.67L315.40 347.36L311.77 352.06L308.14 347.37ZM324.93 342.65L328.58 347.35L324.93 352.06L321.28 347.36ZM338.12 342.63L341.78 347.34L338.12 352.06L334.46 347.35ZM351.34 342.61L355.02 347.31L351.34 352.06L347.67 347.34ZM364.59 342.53L368.27 347.25L364.59 352.00L360.91 347.29ZM377.85 342.46L381.54 347.19L377.85 351.95L374.17 347.22ZM391.13 342.39L394.83 347.13L391.13 351.89L387.44 347.16ZM404.42 342.33L408.12 347.06L404.42 351.84L400.73 347.10ZM417.72 342.26L421.42 347.00L417.72 351.78L414.02 347.04ZM431.02 342.19L434.72 346.94L431.02 351.72L427.32 346.97ZM444.32 342.12L448.01 346.87L444.32 351.66L440.62 346.91ZM457.61 342.06L461.30 346.81L457.61 351.60L453.91 346.85ZM470.89 341.99L474.58 346.75L470.89 351.54L467.20 346.78ZM484.16 341.93L487.84 346.69L484.16 351.48L480.47 346.72ZM164.10 351.49L167.46 355.98L164.10 360.49L160.77 356.00ZM176.59 351.42L179.97 355.92L176.59 360.46L173.22 355.95ZM189.15 351.35L192.57 355.87L189.15 360.42L185.75 355.90ZM201.80 351.29L205.25 355.84L201.80 360.40L198.37 355.85ZM214.51 351.27L217.99 355.84L214.51 360.42L211.05 355.84ZM227.30 351.25L230.80 355.84L227.30 360.44L223.81 355.84ZM240.14 351.24L243.68 355.85L240.14 360.46L236.63 355.85ZM253.05 351.22L256.61 355.85L253.05 360.48L249.51 355.85ZM266.02 351.21L269.59 355.85L266.02 360.49L262.45 355.85ZM279.03 351.19L282.63 355.85L279.03 360.51L275.45 355.85ZM292.09 351.18L295.71 355.85L292.09 360.52L288.49 355.85ZM305.20 351.17L308.83 355.85L305.20 360.54L301.58 355.85ZM318.34 351.16L321.99 355.85L318.34 360.55L314.71 355.85ZM331.52 351.14L335.18 355.86L331.52 360.57L327.87 355.86ZM344.73 351.14L348.40 355.86L344.73 360.58L341.07 355.86ZM357.96 351.09L361.64 355.81L357.96 360.56L354.29 355.84ZM371.22 351.03L374.90 355.75L371.22 360.51L367.54 355.79ZM384.49 350.97L388.18 355.70L384.49 360.46L380.80 355.73ZM397.78 350.91L401.47 355.64L397.78 360.41L394.08 355.68ZM411.07 350.85L414.77 355.59L411.07 360.36L407.37 355.62ZM424.37 350.79L428.07 355.53L424.37 360.31L420.67 355.57ZM437.67 350.73L441.37 355.48L437.67 360.26L433.97 355.51ZM450.96 350.67L454.66 355.42L450.96 360.21L447.27 355.45ZM464.25 350.61L467.94 355.37L464.25 360.16L460.56 355.40ZM477.53 350.56L481.21 355.31L477.53 360.10L473.84 355.34ZM157.89 359.90L161.23 364.37L157.89 368.87L154.58 364.40ZM170.34 359.83L173.70 364.33L170.34 368.85L166.99 364.35ZM182.86 359.77L186.26 364.28L182.86 368.82L179.48 364.31ZM195.47 359.70L198.90 364.24L195.47 368.80L192.05 364.26ZM208.15 359.68L211.61 364.25L208.15 368.81L204.70 364.24ZM220.90 359.67L224.39 364.26L220.90 368.84L217.42 364.25ZM233.71 359.66L237.23 364.27L233.71 368.87L230.21 364.26ZM246.59 359.66L250.13 364.28L246.59 368.90L243.06 364.28ZM259.53 359.66L263.09 364.29L259.53 368.93L255.98 364.29ZM272.52 359.65L276.10 364.31L272.52 368.95L268.94 364.30ZM285.56 359.65L289.16 364.32L285.56 368.98L281.96 364.31ZM298.64 359.65L302.26 364.33L298.64 369.01L295.03 364.32ZM311.77 359.65L315.40 364.34L311.77 369.03L308.14 364.34ZM324.93 359.65L328.58 364.36L324.93 369.06L321.28 364.35ZM338.12 359.65L341.78 364.37L338.12 369.08L334.46 364.36ZM351.34 359.65L355.02 364.36L351.34 369.10L347.67 364.37ZM364.59 359.59L368.27 364.31L364.59 369.06L360.91 364.34ZM377.85 359.54L381.54 364.26L377.85 369.02L374.17 364.29ZM391.13 359.48L394.83 364.22L391.13 368.98L387.44 364.24ZM404.42 359.43L408.12 364.17L404.42 368.94L400.73 364.20ZM417.72 359.38L421.42 364.12L417.72 368.90L414.02 364.15ZM431.02 359.32L434.72 364.08L431.02 368.85L427.32 364.10ZM444.32 359.27L448.01 364.03L444.32 368.81L440.62 364.06ZM457.61 359.22L461.30 363.98L457.61 368.77L453.91 364.01ZM470.89 359.17L474.58 363.93L470.89 368.72L467.20 363.96ZM484.16 359.13L487.84 363.89L484.16 368.68L480.47 363.91ZM164.10 368.24L167.46 372.72L164.10 377.23L160.77 372.74ZM176.59 368.18L179.97 372.69L176.59 377.21L173.22 372.71ZM189.15 368.12L192.57 372.65L189.15 377.20L185.75 372.67ZM201.80 368.08L205.25 372.64L201.80 377.19L198.37 372.63ZM214.51 368.08L217.99 372.66L214.51 377.23L211.05 372.65ZM227.30 368.08L230.80 372.68L227.30 377.27L223.81 372.67ZM240.14 368.09L243.68 372.71L240.14 377.31L236.63 372.69ZM253.05 368.09L256.61 372.73L253.05 377.35L249.51 372.72ZM266.02 368.10L269.59 372.75L266.02 377.39L262.45 372.74ZM279.03 368.11L282.63 372.78L279.03 377.43L275.45 372.76ZM292.09 368.12L295.71 372.80L292.09 377.47L288.49 372.79ZM305.20 368.13L308.83 372.82L305.20 377.50L301.58 372.81ZM318.34 368.14L321.99 372.85L318.34 377.54L314.71 372.83ZM331.52 368.15L335.18 372.87L331.52 377.57L327.87 372.86ZM344.73 368.16L348.40 372.89L344.73 377.61L341.07 372.88ZM357.96 368.14L361.64 372.86L357.96 377.60L354.29 372.88ZM371.22 368.09L374.90 372.82L371.22 377.57L367.54 372.84ZM384.49 368.05L388.18 372.78L384.49 377.54L380.80 372.80ZM397.78 368.00L401.47 372.74L397.78 377.51L394.08 372.77ZM411.07 367.96L414.77 372.70L411.07 377.47L407.37 372.73ZM424.37 367.91L428.07 372.67L424.37 377.44L420.67 372.69ZM437.67 367.87L441.37 372.63L437.67 377.40L433.97 372.65ZM450.96 367.83L454.66 372.59L450.96 377.37L447.27 372.61ZM464.25 367.79L467.94 372.55L464.25 377.33L460.56 372.57ZM477.53 367.74L481.21 372.51L477.53 377.29L473.84 372.53ZM157.89 376.63L161.23 381.11L157.89 385.61L154.58 381.13ZM170.34 376.58L173.70 381.08L170.34 385.60L166.99 381.10ZM182.86 376.53L186.26 381.05L182.86 385.59L179.48 381.07ZM195.47 376.49L198.90 381.02L195.47 385.58L192.05 381.04ZM208.15 376.48L211.61 381.05L208.15 385.61L204.70 381.03ZM220.90 376.49L224.39 381.08L220.90 385.66L217.42 381.07ZM233.71 376.51L237.23 381.12L233.71 385.71L230.21 381.10ZM246.59 376.52L250.13 381.15L246.59 385.76L243.06 381.13ZM259.53 376.54L263.09 381.19L259.53 385.81L255.98 381.17ZM272.52 376.56L276.10 381.22L272.52 385.86L268.94 381.20ZM285.56 376.58L289.16 381.26L285.56 385.91L281.96 381.24ZM298.64 376.60L302.26 381.29L298.64 385.96L295.03 381.27ZM311.77 376.62L315.40 381.32L311.77 386.01L308.14 381.31ZM324.93 376.64L328.58 381.36L324.93 386.05L321.28 381.34ZM338.12 376.67L341.78 381.39L338.12 386.10L334.46 381.37ZM351.34 376.68L355.02 381.40L351.34 386.14L347.67 381.41ZM364.59 376.65L368.27 381.37L364.59 386.12L360.91 381.39ZM377.85 376.61L381.54 381.34L377.85 386.09L374.17 381.36ZM391.13 376.57L394.83 381.31L391.13 386.07L387.44 381.33ZM404.42 376.53L408.12 381.28L404.42 386.04L400.73 381.30ZM417.72 376.49L421.42 381.25L417.72 386.02L414.02 381.26ZM431.02 376.46L434.72 381.21L431.02 385.99L427.32 381.23ZM444.32 376.42L448.01 381.18L444.32 385.96L440.62 381.20ZM457.61 376.39L461.30 381.15L457.61 385.93L453.91 381.17ZM470.89 376.36L474.58 381.12L470.89 385.90L467.20 381.14ZM484.16 376.32L487.84 381.09L484.16 385.87L480.47 381.11ZM164.10 384.98L167.46 389.47L164.10 393.97L160.77 389.48ZM176.59 384.94L179.97 389.45L176.59 393.97L173.22 389.46ZM189.15 384.90L192.57 389.43L189.15 393.97L185.75 389.44ZM201.80 384.86L205.25 389.43L201.80 393.97L198.37 389.42ZM214.51 384.89L217.99 389.48L214.51 394.04L211.05 389.45ZM227.30 384.91L230.80 389.52L227.30 394.10L223.81 389.50ZM240.14 384.94L243.68 389.57L240.14 394.16L236.63 389.54ZM253.05 384.97L256.61 389.61L253.05 394.23L249.51 389.59ZM266.02 385.00L269.59 389.66L266.02 394.29L262.45 389.63ZM279.03 385.03L282.63 389.70L279.03 394.35L275.45 389.68ZM292.09 385.06L295.71 389.75L292.09 394.41L288.49 389.72ZM305.20 385.09L308.83 389.79L305.20 394.47L301.58 389.77ZM318.34 385.13L321.99 389.84L318.34 394.52L314.71 389.81ZM331.52 385.16L335.18 389.88L331.52 394.58L327.87 389.86ZM344.73 385.19L348.40 389.93L344.73 394.64L341.07 389.90ZM357.96 385.19L361.64 389.91L357.96 394.65L354.29 389.93ZM371.22 385.16L374.90 389.89L371.22 394.64L367.54 389.90ZM384.49 385.13L388.18 389.87L384.49 394.62L380.80 389.88ZM397.78 385.10L401.47 389.84L397.78 394.60L394.08 389.86ZM411.07 385.07L414.77 389.82L411.07 394.58L407.37 389.83ZM424.37 385.04L428.07 389.80L424.37 394.57L420.67 389.81ZM437.67 385.01L441.37 389.77L437.67 394.55L433.97 389.79ZM450.96 384.98L454.66 389.75L450.96 394.53L447.27 389.76ZM464.25 384.96L467.94 389.73L464.25 394.50L460.56 389.74ZM477.53 384.93L481.21 389.70L477.53 394.48L473.84 389.71ZM157.89 393.37L161.23 397.85L157.89 402.34L154.58 397.86ZM170.34 393.33L173.70 397.84L170.34 402.35L166.99 397.85ZM182.86 393.30L186.26 397.82L182.86 402.35L179.48 397.83ZM195.47 393.27L198.90 397.81L195.47 402.36L192.05 397.82ZM208.15 393.28L211.61 397.86L208.15 402.41L204.70 397.83ZM220.90 393.31L224.39 397.91L220.90 402.48L217.42 397.88ZM233.71 393.35L237.23 397.97L233.71 402.55L230.21 397.94ZM246.59 393.39L250.13 398.02L246.59 402.63L243.06 397.99ZM259.53 393.43L263.09 398.08L259.53 402.70L255.98 398.05ZM272.52 393.47L276.10 398.13L272.52 402.77L268.94 398.10ZM285.56 393.51L289.16 398.19L285.56 402.84L281.96 398.16ZM298.64 393.55L302.26 398.25L298.64 402.91L295.03 398.22ZM311.77 393.60L315.40 398.30L311.77 402.98L308.14 398.27ZM324.93 393.64L328.58 398.36L324.93 403.05L321.28 398.33ZM338.12 393.69L341.78 398.42L338.12 403.12L334.46 398.39ZM351.34 393.72L355.02 398.45L351.34 403.18L347.67 398.44ZM364.59 393.70L368.27 398.43L364.59 403.17L360.91 398.44ZM377.85 393.68L381.54 398.42L377.85 403.16L374.17 398.43ZM391.13 393.66L394.83 398.40L391.13 403.15L387.44 398.41ZM404.42 393.63L408.12 398.38L404.42 403.14L400.73 398.39ZM417.72 393.61L421.42 398.37L417.72 403.13L414.02 398.38ZM431.02 393.59L434.72 398.35L431.02 403.12L427.32 398.36ZM444.32 393.57L448.01 398.34L444.32 403.11L440.62 398.35ZM457.61 393.55L461.30 398.32L457.61 403.10L453.91 398.33ZM470.89 393.54L474.58 398.31L470.89 403.08L467.20 398.31ZM484.16 393.52L487.84 398.29L484.16 403.07L480.47 398.30ZM164.10 401.72L167.46 406.22L164.10 410.72L160.77 406.22ZM176.59 401.70L179.97 406.21L176.59 410.73L173.22 406.22ZM189.15 401.67L192.57 406.20L189.15 410.74L185.75 406.21ZM201.80 401.65L205.25 406.23L201.80 410.76L198.37 406.20ZM214.51 401.70L217.99 406.29L214.51 410.85L211.05 406.26ZM227.30 401.75L230.80 406.36L227.30 410.93L223.81 406.32ZM240.14 401.80L243.68 406.42L240.14 411.02L236.63 406.39ZM253.05 401.85L256.61 406.49L253.05 411.10L249.51 406.45ZM266.02 401.90L269.59 406.56L266.02 411.18L262.45 406.52ZM279.03 401.95L282.63 406.63L279.03 411.27L275.45 406.59ZM292.09 402.00L295.71 406.69L292.09 411.35L288.49 406.66ZM305.20 402.06L308.83 406.76L305.20 411.43L301.58 406.72ZM318.34 402.11L321.99 406.83L318.34 411.51L314.71 406.79ZM331.52 402.17L335.18 406.90L331.52 411.59L327.87 406.86ZM344.73 402.22L348.40 406.96L344.73 411.67L341.07 406.93ZM357.96 402.24L361.64 406.97L357.96 411.70L354.29 406.97ZM371.22 402.22L374.90 406.96L371.22 411.70L367.54 406.96ZM384.49 402.21L388.18 406.95L384.49 411.70L380.80 406.95ZM397.78 402.19L401.47 406.94L397.78 411.70L394.08 406.95ZM411.07 402.18L414.77 406.93L411.07 411.69L407.37 406.94ZM424.37 402.17L428.07 406.93L424.37 411.69L420.67 406.93ZM437.67 402.15L441.37 406.92L437.67 411.69L433.97 406.92ZM450.96 402.14L454.66 406.91L450.96 411.68L447.27 406.92ZM464.25 402.13L467.94 406.90L464.25 411.68L460.56 406.91ZM477.53 402.12L481.21 406.90L477.53 411.67L473.84 406.90ZM157.89 410.11L161.23 414.59L157.89 419.13L154.58 414.59ZM170.34 410.09L173.70 414.59L170.34 419.14L166.99 414.59ZM182.86 410.07L186.26 414.59L182.86 419.16L179.48 414.59ZM195.47 410.05L198.90 414.59L195.47 419.17L192.05 414.59ZM208.15 410.08L211.61 414.66L208.15 419.24L204.70 414.62ZM220.90 410.13L224.39 414.74L220.90 419.33L217.42 414.70ZM233.71 410.19L237.23 414.82L233.71 419.42L230.21 414.77ZM246.59 410.25L250.13 414.89L246.59 419.51L243.06 414.85ZM259.53 410.31L263.09 414.97L259.53 419.59L255.98 414.93ZM272.52 410.38L276.10 415.05L272.52 419.68L268.94 415.01ZM285.56 410.44L289.16 415.13L285.56 419.77L281.96 415.08ZM298.64 410.50L302.26 415.21L298.64 419.85L295.03 415.16ZM311.77 410.57L315.40 415.28L311.77 419.94L308.14 415.24ZM324.93 410.64L328.58 415.36L324.93 420.02L321.28 415.32ZM338.12 410.70L341.78 415.44L338.12 420.11L334.46 415.40ZM351.34 410.76L355.02 415.49L351.34 420.18L347.67 415.48ZM364.59 410.76L368.27 415.49L364.59 420.19L360.91 415.49ZM377.85 410.75L381.54 415.49L377.85 420.19L374.17 415.49ZM391.13 410.74L394.83 415.49L391.13 420.19L387.44 415.49ZM404.42 410.74L408.12 415.49L404.42 420.20L400.73 415.49ZM417.72 410.73L421.42 415.49L417.72 420.20L414.02 415.49ZM431.02 410.73L434.72 415.49L431.02 420.20L427.32 415.49ZM444.32 410.72L448.01 415.49L444.32 420.20L440.62 415.49ZM457.61 410.72L461.30 415.49L457.61 420.19L453.91 415.49ZM470.89 410.72L474.58 415.49L470.89 420.19L467.20 415.49ZM484.16 410.72L487.84 415.49L484.16 420.19L480.47 415.49ZM164.10 418.51L167.46 423.05L164.10 427.59L160.77 423.05ZM176.59 418.49L179.97 423.05L176.59 427.61L173.22 423.05ZM189.15 418.47L192.57 423.05L189.15 427.63L185.75 423.05ZM201.80 418.47L205.25 423.08L201.80 427.65L198.37 423.05ZM214.51 418.53L217.99 423.16L214.51 427.74L211.05 423.12ZM227.30 418.60L230.80 423.23L227.30 427.83L223.81 423.19ZM240.14 418.66L243.68 423.31L240.14 427.92L236.63 423.27ZM253.05 418.73L256.61 423.39L253.05 428.01L249.51 423.35ZM266.02 418.80L269.59 423.47L266.02 428.09L262.45 423.42ZM279.03 418.87L282.63 423.55L279.03 428.18L275.45 423.50ZM292.09 418.94L295.71 423.62L292.09 428.27L288.49 423.58ZM305.20 419.01L308.83 423.70L305.20 428.35L301.58 423.66ZM318.34 419.08L321.99 423.78L318.34 428.44L314.71 423.74ZM331.52 419.15L335.18 423.86L331.52 428.52L327.87 423.82ZM344.73 419.23L348.40 423.94L344.73 428.61L341.07 423.90ZM357.96 419.26L361.64 423.95L357.96 428.64L354.29 423.95ZM371.22 419.25L374.90 423.95L371.22 428.65L367.54 423.95ZM384.49 419.25L388.18 423.95L384.49 428.65L380.80 423.95ZM397.78 419.25L401.47 423.95L397.78 428.65L394.08 423.95ZM411.07 419.25L414.77 423.95L411.07 428.65L407.37 423.95ZM424.37 419.25L428.07 423.95L424.37 428.65L420.67 423.95ZM437.67 419.25L441.37 423.95L437.67 428.65L433.97 423.95ZM450.96 419.25L454.66 423.95L450.96 428.65L447.27 423.95ZM464.25 419.25L467.94 423.95L464.25 428.65L460.56 423.95ZM477.53 419.25L481.21 423.95L477.53 428.65L473.84 423.95ZM157.89 426.97L161.23 431.51L157.89 436.04L154.58 431.51ZM170.34 426.96L173.70 431.51L170.34 436.06L166.99 431.51ZM182.86 426.94L186.26 431.51L182.86 436.08L179.48 431.51ZM195.47 426.93L198.90 431.51L195.47 436.09L192.05 431.51ZM208.15 426.96L211.61 431.58L208.15 436.15L204.70 431.54ZM220.90 427.02L224.39 431.65L220.90 436.24L217.42 431.61ZM233.71 427.09L237.23 431.73L233.71 436.33L230.21 431.69ZM246.59 427.15L250.13 431.81L246.59 436.42L243.06 431.77ZM259.53 427.22L263.09 431.89L259.53 436.51L255.98 431.84ZM272.52 427.29L276.10 431.96L272.52 436.60L268.94 431.92ZM285.56 427.36L289.16 432.04L285.56 436.68L281.96 432.00ZM298.64 427.43L302.26 432.12L298.64 436.77L295.03 432.08ZM311.77 427.50L315.40 432.20L311.77 436.86L308.14 432.16ZM324.93 427.57L328.58 432.28L324.93 436.94L321.28 432.24ZM338.12 427.65L341.78 432.36L338.12 437.02L334.46 432.31ZM351.34 427.72L355.02 432.41L351.34 437.10L347.67 432.39ZM364.59 427.71L368.27 432.41L364.59 437.10L360.91 432.41ZM377.85 427.71L381.54 432.41L377.85 437.11L374.17 432.41ZM391.13 427.71L394.83 432.41L391.13 437.11L387.44 432.41ZM404.42 427.70L408.12 432.41L404.42 437.11L400.73 432.41ZM417.72 427.70L421.42 432.41L417.72 437.11L414.02 432.41ZM431.02 427.70L434.72 432.41L431.02 437.11L427.32 432.41ZM444.32 427.70L448.01 432.41L444.32 437.11L440.62 432.41ZM457.61 427.71L461.30 432.41L457.61 437.11L453.91 432.41ZM470.89 427.71L474.58 432.41L470.89 437.11L467.20 432.41ZM484.16 427.71L487.84 432.41L484.16 437.11L480.47 432.41Z" fill="#fff" stroke="#fff" stroke-width="3.6" stroke-linejoin="round" clip-path="url(#mc)"/>
<path d="M169.09 205.13a1.25 1.25 0 1 0 2.5 0a1.25 1.25 0 1 0 -2.5 0M181.61 204.95a1.25 1.25 0 1 0 2.5 0a1.25 1.25 0 1 0 -2.5 0M194.22 204.77a1.25 1.25 0 1 0 2.5 0a1.25 1.25 0 1 0 -2.5 0M206.90 204.59a1.25 1.25 0 1 0 2.5 0a1.25 1.25 0 1 0 -2.5 0M219.65 204.41a1.25 1.25 0 1 0 2.5 0a1.25 1.25 0 1 0 -2.5 0M162.85 213.67a1.25 1.25 0 1 0 2.5 0a1.25 1.25 0 1 0 -2.5 0M175.34 213.49a1.25 1.25 0 1 0 2.5 0a1.25 1.25 0 1 0 -2.5 0M187.90 213.32a1.25 1.25 0 1 0 2.5 0a1.25 1.25 0 1 0 -2.5 0M200.55 213.14a1.25 1.25 0 1 0 2.5 0a1.25 1.25 0 1 0 -2.5 0M213.26 212.96a1.25 1.25 0 1 0 2.5 0a1.25 1.25 0 1 0 -2.5 0M226.05 212.77a1.25 1.25 0 1 0 2.5 0a1.25 1.25 0 1 0 -2.5 0M238.89 212.59a1.25 1.25 0 1 0 2.5 0a1.25 1.25 0 1 0 -2.5 0M251.80 212.41a1.25 1.25 0 1 0 2.5 0a1.25 1.25 0 1 0 -2.5 0M264.77 212.22a1.25 1.25 0 1 0 2.5 0a1.25 1.25 0 1 0 -2.5 0M277.78 212.04a1.25 1.25 0 1 0 2.5 0a1.25 1.25 0 1 0 -2.5 0M290.84 211.85a1.25 1.25 0 1 0 2.5 0a1.25 1.25 0 1 0 -2.5 0M303.95 211.67a1.25 1.25 0 1 0 2.5 0a1.25 1.25 0 1 0 -2.5 0M317.09 211.48a1.25 1.25 0 1 0 2.5 0a1.25 1.25 0 1 0 -2.5 0M330.27 211.29a1.25 1.25 0 1 0 2.5 0a1.25 1.25 0 1 0 -2.5 0M343.48 211.11a1.25 1.25 0 1 0 2.5 0a1.25 1.25 0 1 0 -2.5 0M356.71 210.92a1.25 1.25 0 1 0 2.5 0a1.25 1.25 0 1 0 -2.5 0M369.97 210.73a1.25 1.25 0 1 0 2.5 0a1.25 1.25 0 1 0 -2.5 0M383.24 210.54a1.25 1.25 0 1 0 2.5 0a1.25 1.25 0 1 0 -2.5 0M396.53 210.35a1.25 1.25 0 1 0 2.5 0a1.25 1.25 0 1 0 -2.5 0M409.82 210.16a1.25 1.25 0 1 0 2.5 0a1.25 1.25 0 1 0 -2.5 0M423.12 209.98a1.25 1.25 0 1 0 2.5 0a1.25 1.25 0 1 0 -2.5 0M436.42 209.79a1.25 1.25 0 1 0 2.5 0a1.25 1.25 0 1 0 -2.5 0M449.71 209.60a1.25 1.25 0 1 0 2.5 0a1.25 1.25 0 1 0 -2.5 0M463.00 209.41a1.25 1.25 0 1 0 2.5 0a1.25 1.25 0 1 0 -2.5 0M476.28 209.22a1.25 1.25 0 1 0 2.5 0a1.25 1.25 0 1 0 -2.5 0M169.09 221.96a1.25 1.25 0 1 0 2.5 0a1.25 1.25 0 1 0 -2.5 0M181.61 221.79a1.25 1.25 0 1 0 2.5 0a1.25 1.25 0 1 0 -2.5 0M194.22 221.62a1.25 1.25 0 1 0 2.5 0a1.25 1.25 0 1 0 -2.5 0M206.90 221.45a1.25 1.25 0 1 0 2.5 0a1.25 1.25 0 1 0 -2.5 0M219.65 221.28a1.25 1.25 0 1 0 2.5 0a1.25 1.25 0 1 0 -2.5 0M232.46 221.10a1.25 1.25 0 1 0 2.5 0a1.25 1.25 0 1 0 -2.5 0M245.34 220.93a1.25 1.25 0 1 0 2.5 0a1.25 1.25 0 1 0 -2.5 0M258.28 220.76a1.25 1.25 0 1 0 2.5 0a1.25 1.25 0 1 0 -2.5 0M271.27 220.59a1.25 1.25 0 1 0 2.5 0a1.25 1.25 0 1 0 -2.5 0M284.31 220.41a1.25 1.25 0 1 0 2.5 0a1.25 1.25 0 1 0 -2.5 0M297.39 220.24a1.25 1.25 0 1 0 2.5 0a1.25 1.25 0 1 0 -2.5 0M310.52 220.06a1.25 1.25 0 1 0 2.5 0a1.25 1.25 0 1 0 -2.5 0M323.68 219.89a1.25 1.25 0 1 0 2.5 0a1.25 1.25 0 1 0 -2.5 0M336.87 219.71a1.25 1.25 0 1 0 2.5 0a1.25 1.25 0 1 0 -2.5 0M350.09 219.53a1.25 1.25 0 1 0 2.5 0a1.25 1.25 0 1 0 -2.5 0M363.34 219.35a1.25 1.25 0 1 0 2.5 0a1.25 1.25 0 1 0 -2.5 0M376.60 219.17a1.25 1.25 0 1 0 2.5 0a1.25 1.25 0 1 0 -2.5 0M389.88 218.99a1.25 1.25 0 1 0 2.5 0a1.25 1.25 0 1 0 -2.5 0M403.17 218.81a1.25 1.25 0 1 0 2.5 0a1.25 1.25 0 1 0 -2.5 0M416.47 218.63a1.25 1.25 0 1 0 2.5 0a1.25 1.25 0 1 0 -2.5 0M429.77 218.45a1.25 1.25 0 1 0 2.5 0a1.25 1.25 0 1 0 -2.5 0M443.07 218.27a1.25 1.25 0 1 0 2.5 0a1.25 1.25 0 1 0 -2.5 0M456.36 218.09a1.25 1.25 0 1 0 2.5 0a1.25 1.25 0 1 0 -2.5 0M469.64 217.91a1.25 1.25 0 1 0 2.5 0a1.25 1.25 0 1 0 -2.5 0M162.85 230.42a1.25 1.25 0 1 0 2.5 0a1.25 1.25 0 1 0 -2.5 0M175.34 230.25a1.25 1.25 0 1 0 2.5 0a1.25 1.25 0 1 0 -2.5 0M187.90 230.09a1.25 1.25 0 1 0 2.5 0a1.25 1.25 0 1 0 -2.5 0M200.55 229.93a1.25 1.25 0 1 0 2.5 0a1.25 1.25 0 1 0 -2.5 0M213.26 229.77a1.25 1.25 0 1 0 2.5 0a1.25 1.25 0 1 0 -2.5 0M226.05 229.61a1.25 1.25 0 1 0 2.5 0a1.25 1.25 0 1 0 -2.5 0M238.89 229.45a1.25 1.25 0 1 0 2.5 0a1.25 1.25 0 1 0 -2.5 0M251.80 229.28a1.25 1.25 0 1 0 2.5 0a1.25 1.25 0 1 0 -2.5 0M264.77 229.12a1.25 1.25 0 1 0 2.5 0a1.25 1.25 0 1 0 -2.5 0M277.78 228.96a1.25 1.25 0 1 0 2.5 0a1.25 1.25 0 1 0 -2.5 0M290.84 228.80a1.25 1.25 0 1 0 2.5 0a1.25 1.25 0 1 0 -2.5 0M303.95 228.63a1.25 1.25 0 1 0 2.5 0a1.25 1.25 0 1 0 -2.5 0M317.09 228.47a1.25 1.25 0 1 0 2.5 0a1.25 1.25 0 1 0 -2.5 0M330.27 228.30a1.25 1.25 0 1 0 2.5 0a1.25 1.25 0 1 0 -2.5 0M343.48 228.14a1.25 1.25 0 1 0 2.5 0a1.25 1.25 0 1 0 -2.5 0M356.71 227.97a1.25 1.25 0 1 0 2.5 0a1.25 1.25 0 1 0 -2.5 0M369.97 227.79a1.25 1.25 0 1 0 2.5 0a1.25 1.25 0 1 0 -2.5 0M383.24 227.62a1.25 1.25 0 1 0 2.5 0a1.25 1.25 0 1 0 -2.5 0M396.53 227.45a1.25 1.25 0 1 0 2.5 0a1.25 1.25 0 1 0 -2.5 0M409.82 227.28a1.25 1.25 0 1 0 2.5 0a1.25 1.25 0 1 0 -2.5 0M423.12 227.10a1.25 1.25 0 1 0 2.5 0a1.25 1.25 0 1 0 -2.5 0M436.42 226.93a1.25 1.25 0 1 0 2.5 0a1.25 1.25 0 1 0 -2.5 0M449.71 226.76a1.25 1.25 0 1 0 2.5 0a1.25 1.25 0 1 0 -2.5 0M463.00 226.58a1.25 1.25 0 1 0 2.5 0a1.25 1.25 0 1 0 -2.5 0M476.28 226.41a1.25 1.25 0 1 0 2.5 0a1.25 1.25 0 1 0 -2.5 0M169.09 238.71a1.25 1.25 0 1 0 2.5 0a1.25 1.25 0 1 0 -2.5 0M181.61 238.55a1.25 1.25 0 1 0 2.5 0a1.25 1.25 0 1 0 -2.5 0M194.22 238.40a1.25 1.25 0 1 0 2.5 0a1.25 1.25 0 1 0 -2.5 0M206.90 238.25a1.25 1.25 0 1 0 2.5 0a1.25 1.25 0 1 0 -2.5 0M219.65 238.10a1.25 1.25 0 1 0 2.5 0a1.25 1.25 0 1 0 -2.5 0M232.46 237.95a1.25 1.25 0 1 0 2.5 0a1.25 1.25 0 1 0 -2.5 0M245.34 237.80a1.25 1.25 0 1 0 2.5 0a1.25 1.25 0 1 0 -2.5 0M258.28 237.65a1.25 1.25 0 1 0 2.5 0a1.25 1.25 0 1 0 -2.5 0M271.27 237.49a1.25 1.25 0 1 0 2.5 0a1.25 1.25 0 1 0 -2.5 0M284.31 237.34a1.25 1.25 0 1 0 2.5 0a1.25 1.25 0 1 0 -2.5 0M297.39 237.19a1.25 1.25 0 1 0 2.5 0a1.25 1.25 0 1 0 -2.5 0M310.52 237.04a1.25 1.25 0 1 0 2.5 0a1.25 1.25 0 1 0 -2.5 0M323.68 236.88a1.25 1.25 0 1 0 2.5 0a1.25 1.25 0 1 0 -2.5 0M336.87 236.73a1.25 1.25 0 1 0 2.5 0a1.25 1.25 0 1 0 -2.5 0M350.09 236.57a1.25 1.25 0 1 0 2.5 0a1.25 1.25 0 1 0 -2.5 0M363.34 236.41a1.25 1.25 0 1 0 2.5 0a1.25 1.25 0 1 0 -2.5 0M376.60 236.24a1.25 1.25 0 1 0 2.5 0a1.25 1.25 0 1 0 -2.5 0M389.88 236.08a1.25 1.25 0 1 0 2.5 0a1.25 1.25 0 1 0 -2.5 0M403.17 235.91a1.25 1.25 0 1 0 2.5 0a1.25 1.25 0 1 0 -2.5 0M416.47 235.75a1.25 1.25 0 1 0 2.5 0a1.25 1.25 0 1 0 -2.5 0M429.77 235.58a1.25 1.25 0 1 0 2.5 0a1.25 1.25 0 1 0 -2.5 0M443.07 235.42a1.25 1.25 0 1 0 2.5 0a1.25 1.25 0 1 0 -2.5 0M456.36 235.25a1.25 1.25 0 1 0 2.5 0a1.25 1.25 0 1 0 -2.5 0M469.64 235.09a1.25 1.25 0 1 0 2.5 0a1.25 1.25 0 1 0 -2.5 0M162.85 247.16a1.25 1.25 0 1 0 2.5 0a1.25 1.25 0 1 0 -2.5 0M175.34 247.01a1.25 1.25 0 1 0 2.5 0a1.25 1.25 0 1 0 -2.5 0M187.90 246.86a1.25 1.25 0 1 0 2.5 0a1.25 1.25 0 1 0 -2.5 0M200.55 246.71a1.25 1.25 0 1 0 2.5 0a1.25 1.25 0 1 0 -2.5 0M213.26 246.58a1.25 1.25 0 1 0 2.5 0a1.25 1.25 0 1 0 -2.5 0M226.05 246.44a1.25 1.25 0 1 0 2.5 0a1.25 1.25 0 1 0 -2.5 0M238.89 246.30a1.25 1.25 0 1 0 2.5 0a1.25 1.25 0 1 0 -2.5 0M251.80 246.16a1.25 1.25 0 1 0 2.5 0a1.25 1.25 0 1 0 -2.5 0M264.77 246.02a1.25 1.25 0 1 0 2.5 0a1.25 1.25 0 1 0 -2.5 0M277.78 245.88a1.25 1.25 0 1 0 2.5 0a1.25 1.25 0 1 0 -2.5 0M290.84 245.74a1.25 1.25 0 1 0 2.5 0a1.25 1.25 0 1 0 -2.5 0M303.95 245.59a1.25 1.25 0 1 0 2.5 0a1.25 1.25 0 1 0 -2.5 0M317.09 245.45a1.25 1.25 0 1 0 2.5 0a1.25 1.25 0 1 0 -2.5 0M330.27 245.31a1.25 1.25 0 1 0 2.5 0a1.25 1.25 0 1 0 -2.5 0M343.48 245.17a1.25 1.25 0 1 0 2.5 0a1.25 1.25 0 1 0 -2.5 0M356.71 245.01a1.25 1.25 0 1 0 2.5 0a1.25 1.25 0 1 0 -2.5 0M369.97 244.86a1.25 1.25 0 1 0 2.5 0a1.25 1.25 0 1 0 -2.5 0M383.24 244.70a1.25 1.25 0 1 0 2.5 0a1.25 1.25 0 1 0 -2.5 0M396.53 244.54a1.25 1.25 0 1 0 2.5 0a1.25 1.25 0 1 0 -2.5 0M409.82 244.39a1.25 1.25 0 1 0 2.5 0a1.25 1.25 0 1 0 -2.5 0M423.12 244.23a1.25 1.25 0 1 0 2.5 0a1.25 1.25 0 1 0 -2.5 0M436.42 244.07a1.25 1.25 0 1 0 2.5 0a1.25 1.25 0 1 0 -2.5 0M449.71 243.91a1.25 1.25 0 1 0 2.5 0a1.25 1.25 0 1 0 -2.5 0M463.00 243.76a1.25 1.25 0 1 0 2.5 0a1.25 1.25 0 1 0 -2.5 0M476.28 243.60a1.25 1.25 0 1 0 2.5 0a1.25 1.25 0 1 0 -2.5 0M169.09 255.46a1.25 1.25 0 1 0 2.5 0a1.25 1.25 0 1 0 -2.5 0M181.61 255.32a1.25 1.25 0 1 0 2.5 0a1.25 1.25 0 1 0 -2.5 0M194.22 255.18a1.25 1.25 0 1 0 2.5 0a1.25 1.25 0 1 0 -2.5 0M206.90 255.05a1.25 1.25 0 1 0 2.5 0a1.25 1.25 0 1 0 -2.5 0M219.65 254.92a1.25 1.25 0 1 0 2.5 0a1.25 1.25 0 1 0 -2.5 0M232.46 254.79a1.25 1.25 0 1 0 2.5 0a1.25 1.25 0 1 0 -2.5 0M245.34 254.66a1.25 1.25 0 1 0 2.5 0a1.25 1.25 0 1 0 -2.5 0M258.28 254.53a1.25 1.25 0 1 0 2.5 0a1.25 1.25 0 1 0 -2.5 0M271.27 254.40a1.25 1.25 0 1 0 2.5 0a1.25 1.25 0 1 0 -2.5 0M284.31 254.27a1.25 1.25 0 1 0 2.5 0a1.25 1.25 0 1 0 -2.5 0M297.39 254.14a1.25 1.25 0 1 0 2.5 0a1.25 1.25 0 1 0 -2.5 0M310.52 254.01a1.25 1.25 0 1 0 2.5 0a1.25 1.25 0 1 0 -2.5 0M323.68 253.88a1.25 1.25 0 1 0 2.5 0a1.25 1.25 0 1 0 -2.5 0M336.87 253.75a1.25 1.25 0 1 0 2.5 0a1.25 1.25 0 1 0 -2.5 0M350.09 253.61a1.25 1.25 0 1 0 2.5 0a1.25 1.25 0 1 0 -2.5 0M363.34 253.46a1.25 1.25 0 1 0 2.5 0a1.25 1.25 0 1 0 -2.5 0M376.60 253.31a1.25 1.25 0 1 0 2.5 0a1.25 1.25 0 1 0 -2.5 0M389.88 253.17a1.25 1.25 0 1 0 2.5 0a1.25 1.25 0 1 0 -2.5 0M403.17 253.02a1.25 1.25 0 1 0 2.5 0a1.25 1.25 0 1 0 -2.5 0M416.47 252.87a1.25 1.25 0 1 0 2.5 0a1.25 1.25 0 1 0 -2.5 0M429.77 252.72a1.25 1.25 0 1 0 2.5 0a1.25 1.25 0 1 0 -2.5 0M443.07 252.57a1.25 1.25 0 1 0 2.5 0a1.25 1.25 0 1 0 -2.5 0M456.36 252.42a1.25 1.25 0 1 0 2.5 0a1.25 1.25 0 1 0 -2.5 0M469.64 252.27a1.25 1.25 0 1 0 2.5 0a1.25 1.25 0 1 0 -2.5 0M162.85 263.90a1.25 1.25 0 1 0 2.5 0a1.25 1.25 0 1 0 -2.5 0M175.34 263.77a1.25 1.25 0 1 0 2.5 0a1.25 1.25 0 1 0 -2.5 0M187.90 263.64a1.25 1.25 0 1 0 2.5 0a1.25 1.25 0 1 0 -2.5 0M200.55 263.50a1.25 1.25 0 1 0 2.5 0a1.25 1.25 0 1 0 -2.5 0M213.26 263.39a1.25 1.25 0 1 0 2.5 0a1.25 1.25 0 1 0 -2.5 0M226.05 263.27a1.25 1.25 0 1 0 2.5 0a1.25 1.25 0 1 0 -2.5 0M238.89 263.15a1.25 1.25 0 1 0 2.5 0a1.25 1.25 0 1 0 -2.5 0M251.80 263.03a1.25 1.25 0 1 0 2.5 0a1.25 1.25 0 1 0 -2.5 0M264.77 262.92a1.25 1.25 0 1 0 2.5 0a1.25 1.25 0 1 0 -2.5 0M277.78 262.80a1.25 1.25 0 1 0 2.5 0a1.25 1.25 0 1 0 -2.5 0M290.84 262.68a1.25 1.25 0 1 0 2.5 0a1.25 1.25 0 1 0 -2.5 0M303.95 262.56a1.25 1.25 0 1 0 2.5 0a1.25 1.25 0 1 0 -2.5 0M317.09 262.44a1.25 1.25 0 1 0 2.5 0a1.25 1.25 0 1 0 -2.5 0M330.27 262.32a1.25 1.25 0 1 0 2.5 0a1.25 1.25 0 1 0 -2.5 0M343.48 262.20a1.25 1.25 0 1 0 2.5 0a1.25 1.25 0 1 0 -2.5 0M356.71 262.06a1.25 1.25 0 1 0 2.5 0a1.25 1.25 0 1 0 -2.5 0M369.97 261.92a1.25 1.25 0 1 0 2.5 0a1.25 1.25 0 1 0 -2.5 0M383.24 261.78a1.25 1.25 0 1 0 2.5 0a1.25 1.25 0 1 0 -2.5 0M396.53 261.64a1.25 1.25 0 1 0 2.5 0a1.25 1.25 0 1 0 -2.5 0M409.82 261.50a1.25 1.25 0 1 0 2.5 0a1.25 1.25 0 1 0 -2.5 0M423.12 261.35a1.25 1.25 0 1 0 2.5 0a1.25 1.25 0 1 0 -2.5 0M436.42 261.21a1.25 1.25 0 1 0 2.5 0a1.25 1.25 0 1 0 -2.5 0M449.71 261.07a1.25 1.25 0 1 0 2.5 0a1.25 1.25 0 1 0 -2.5 0M463.00 260.93a1.25 1.25 0 1 0 2.5 0a1.25 1.25 0 1 0 -2.5 0M476.28 260.79a1.25 1.25 0 1 0 2.5 0a1.25 1.25 0 1 0 -2.5 0M169.09 272.21a1.25 1.25 0 1 0 2.5 0a1.25 1.25 0 1 0 -2.5 0M181.61 272.08a1.25 1.25 0 1 0 2.5 0a1.25 1.25 0 1 0 -2.5 0M194.22 271.96a1.25 1.25 0 1 0 2.5 0a1.25 1.25 0 1 0 -2.5 0M206.90 271.84a1.25 1.25 0 1 0 2.5 0a1.25 1.25 0 1 0 -2.5 0M219.65 271.74a1.25 1.25 0 1 0 2.5 0a1.25 1.25 0 1 0 -2.5 0M232.46 271.63a1.25 1.25 0 1 0 2.5 0a1.25 1.25 0 1 0 -2.5 0M245.34 271.53a1.25 1.25 0 1 0 2.5 0a1.25 1.25 0 1 0 -2.5 0M258.28 271.42a1.25 1.25 0 1 0 2.5 0a1.25 1.25 0 1 0 -2.5 0M271.27 271.31a1.25 1.25 0 1 0 2.5 0a1.25 1.25 0 1 0 -2.5 0M284.31 271.20a1.25 1.25 0 1 0 2.5 0a1.25 1.25 0 1 0 -2.5 0M297.39 271.09a1.25 1.25 0 1 0 2.5 0a1.25 1.25 0 1 0 -2.5 0M310.52 270.98a1.25 1.25 0 1 0 2.5 0a1.25 1.25 0 1 0 -2.5 0M323.68 270.87a1.25 1.25 0 1 0 2.5 0a1.25 1.25 0 1 0 -2.5 0M336.87 270.76a1.25 1.25 0 1 0 2.5 0a1.25 1.25 0 1 0 -2.5 0M350.09 270.65a1.25 1.25 0 1 0 2.5 0a1.25 1.25 0 1 0 -2.5 0M363.34 270.52a1.25 1.25 0 1 0 2.5 0a1.25 1.25 0 1 0 -2.5 0M376.60 270.39a1.25 1.25 0 1 0 2.5 0a1.25 1.25 0 1 0 -2.5 0M389.88 270.25a1.25 1.25 0 1 0 2.5 0a1.25 1.25 0 1 0 -2.5 0M403.17 270.12a1.25 1.25 0 1 0 2.5 0a1.25 1.25 0 1 0 -2.5 0M416.47 269.98a1.25 1.25 0 1 0 2.5 0a1.25 1.25 0 1 0 -2.5 0M429.77 269.85a1.25 1.25 0 1 0 2.5 0a1.25 1.25 0 1 0 -2.5 0M443.07 269.72a1.25 1.25 0 1 0 2.5 0a1.25 1.25 0 1 0 -2.5 0M456.36 269.58a1.25 1.25 0 1 0 2.5 0a1.25 1.25 0 1 0 -2.5 0M469.64 269.45a1.25 1.25 0 1 0 2.5 0a1.25 1.25 0 1 0 -2.5 0M162.85 280.65a1.25 1.25 0 1 0 2.5 0a1.25 1.25 0 1 0 -2.5 0M175.34 280.53a1.25 1.25 0 1 0 2.5 0a1.25 1.25 0 1 0 -2.5 0M187.90 280.41a1.25 1.25 0 1 0 2.5 0a1.25 1.25 0 1 0 -2.5 0M200.55 280.29a1.25 1.25 0 1 0 2.5 0a1.25 1.25 0 1 0 -2.5 0M213.26 280.20a1.25 1.25 0 1 0 2.5 0a1.25 1.25 0 1 0 -2.5 0M226.05 280.10a1.25 1.25 0 1 0 2.5 0a1.25 1.25 0 1 0 -2.5 0M238.89 280.01a1.25 1.25 0 1 0 2.5 0a1.25 1.25 0 1 0 -2.5 0M251.80 279.91a1.25 1.25 0 1 0 2.5 0a1.25 1.25 0 1 0 -2.5 0M264.77 279.81a1.25 1.25 0 1 0 2.5 0a1.25 1.25 0 1 0 -2.5 0M277.78 279.72a1.25 1.25 0 1 0 2.5 0a1.25 1.25 0 1 0 -2.5 0M290.84 279.62a1.25 1.25 0 1 0 2.5 0a1.25 1.25 0 1 0 -2.5 0M303.95 279.52a1.25 1.25 0 1 0 2.5 0a1.25 1.25 0 1 0 -2.5 0M317.09 279.42a1.25 1.25 0 1 0 2.5 0a1.25 1.25 0 1 0 -2.5 0M330.27 279.32a1.25 1.25 0 1 0 2.5 0a1.25 1.25 0 1 0 -2.5 0M343.48 279.22a1.25 1.25 0 1 0 2.5 0a1.25 1.25 0 1 0 -2.5 0M356.71 279.11a1.25 1.25 0 1 0 2.5 0a1.25 1.25 0 1 0 -2.5 0M369.97 278.98a1.25 1.25 0 1 0 2.5 0a1.25 1.25 0 1 0 -2.5 0M383.24 278.86a1.25 1.25 0 1 0 2.5 0a1.25 1.25 0 1 0 -2.5 0M396.53 278.73a1.25 1.25 0 1 0 2.5 0a1.25 1.25 0 1 0 -2.5 0M409.82 278.61a1.25 1.25 0 1 0 2.5 0a1.25 1.25 0 1 0 -2.5 0M423.12 278.48a1.25 1.25 0 1 0 2.5 0a1.25 1.25 0 1 0 -2.5 0M436.42 278.36a1.25 1.25 0 1 0 2.5 0a1.25 1.25 0 1 0 -2.5 0M449.71 278.23a1.25 1.25 0 1 0 2.5 0a1.25 1.25 0 1 0 -2.5 0M463.00 278.10a1.25 1.25 0 1 0 2.5 0a1.25 1.25 0 1 0 -2.5 0M476.28 277.98a1.25 1.25 0 1 0 2.5 0a1.25 1.25 0 1 0 -2.5 0M169.09 288.96a1.25 1.25 0 1 0 2.5 0a1.25 1.25 0 1 0 -2.5 0M181.61 288.85a1.25 1.25 0 1 0 2.5 0a1.25 1.25 0 1 0 -2.5 0M194.22 288.74a1.25 1.25 0 1 0 2.5 0a1.25 1.25 0 1 0 -2.5 0M206.90 288.64a1.25 1.25 0 1 0 2.5 0a1.25 1.25 0 1 0 -2.5 0M219.65 288.56a1.25 1.25 0 1 0 2.5 0a1.25 1.25 0 1 0 -2.5 0M232.46 288.47a1.25 1.25 0 1 0 2.5 0a1.25 1.25 0 1 0 -2.5 0M245.34 288.39a1.25 1.25 0 1 0 2.5 0a1.25 1.25 0 1 0 -2.5 0M258.28 288.30a1.25 1.25 0 1 0 2.5 0a1.25 1.25 0 1 0 -2.5 0M271.27 288.22a1.25 1.25 0 1 0 2.5 0a1.25 1.25 0 1 0 -2.5 0M284.31 288.13a1.25 1.25 0 1 0 2.5 0a1.25 1.25 0 1 0 -2.5 0M297.39 288.04a1.25 1.25 0 1 0 2.5 0a1.25 1.25 0 1 0 -2.5 0M310.52 287.96a1.25 1.25 0 1 0 2.5 0a1.25 1.25 0 1 0 -2.5 0M323.68 287.87a1.25 1.25 0 1 0 2.5 0a1.25 1.25 0 1 0 -2.5 0M336.87 287.78a1.25 1.25 0 1 0 2.5 0a1.25 1.25 0 1 0 -2.5 0M350.09 287.69a1.25 1.25 0 1 0 2.5 0a1.25 1.25 0 1 0 -2.5 0M363.34 287.58a1.25 1.25 0 1 0 2.5 0a1.25 1.25 0 1 0 -2.5 0M376.60 287.46a1.25 1.25 0 1 0 2.5 0a1.25 1.25 0 1 0 -2.5 0M389.88 287.34a1.25 1.25 0 1 0 2.5 0a1.25 1.25 0 1 0 -2.5 0M403.17 287.22a1.25 1.25 0 1 0 2.5 0a1.25 1.25 0 1 0 -2.5 0M416.47 287.10a1.25 1.25 0 1 0 2.5 0a1.25 1.25 0 1 0 -2.5 0M429.77 286.99a1.25 1.25 0 1 0 2.5 0a1.25 1.25 0 1 0 -2.5 0M443.07 286.87a1.25 1.25 0 1 0 2.5 0a1.25 1.25 0 1 0 -2.5 0M456.36 286.75a1.25 1.25 0 1 0 2.5 0a1.25 1.25 0 1 0 -2.5 0M469.64 286.63a1.25 1.25 0 1 0 2.5 0a1.25 1.25 0 1 0 -2.5 0M162.85 297.39a1.25 1.25 0 1 0 2.5 0a1.25 1.25 0 1 0 -2.5 0M175.34 297.29a1.25 1.25 0 1 0 2.5 0a1.25 1.25 0 1 0 -2.5 0M187.90 297.18a1.25 1.25 0 1 0 2.5 0a1.25 1.25 0 1 0 -2.5 0M200.55 297.08a1.25 1.25 0 1 0 2.5 0a1.25 1.25 0 1 0 -2.5 0M213.26 297.01a1.25 1.25 0 1 0 2.5 0a1.25 1.25 0 1 0 -2.5 0M226.05 296.93a1.25 1.25 0 1 0 2.5 0a1.25 1.25 0 1 0 -2.5 0M238.89 296.86a1.25 1.25 0 1 0 2.5 0a1.25 1.25 0 1 0 -2.5 0M251.80 296.78a1.25 1.25 0 1 0 2.5 0a1.25 1.25 0 1 0 -2.5 0M264.77 296.71a1.25 1.25 0 1 0 2.5 0a1.25 1.25 0 1 0 -2.5 0M277.78 296.63a1.25 1.25 0 1 0 2.5 0a1.25 1.25 0 1 0 -2.5 0M290.84 296.56a1.25 1.25 0 1 0 2.5 0a1.25 1.25 0 1 0 -2.5 0M303.95 296.48a1.25 1.25 0 1 0 2.5 0a1.25 1.25 0 1 0 -2.5 0M317.09 296.41a1.25 1.25 0 1 0 2.5 0a1.25 1.25 0 1 0 -2.5 0M330.27 296.33a1.25 1.25 0 1 0 2.5 0a1.25 1.25 0 1 0 -2.5 0M343.48 296.25a1.25 1.25 0 1 0 2.5 0a1.25 1.25 0 1 0 -2.5 0M356.71 296.16a1.25 1.25 0 1 0 2.5 0a1.25 1.25 0 1 0 -2.5 0M369.97 296.05a1.25 1.25 0 1 0 2.5 0a1.25 1.25 0 1 0 -2.5 0M383.24 295.94a1.25 1.25 0 1 0 2.5 0a1.25 1.25 0 1 0 -2.5 0M396.53 295.83a1.25 1.25 0 1 0 2.5 0a1.25 1.25 0 1 0 -2.5 0M409.82 295.72a1.25 1.25 0 1 0 2.5 0a1.25 1.25 0 1 0 -2.5 0M423.12 295.61a1.25 1.25 0 1 0 2.5 0a1.25 1.25 0 1 0 -2.5 0M436.42 295.50a1.25 1.25 0 1 0 2.5 0a1.25 1.25 0 1 0 -2.5 0M449.71 295.39a1.25 1.25 0 1 0 2.5 0a1.25 1.25 0 1 0 -2.5 0M463.00 295.28a1.25 1.25 0 1 0 2.5 0a1.25 1.25 0 1 0 -2.5 0M476.28 295.17a1.25 1.25 0 1 0 2.5 0a1.25 1.25 0 1 0 -2.5 0M169.09 305.71a1.25 1.25 0 1 0 2.5 0a1.25 1.25 0 1 0 -2.5 0M181.61 305.62a1.25 1.25 0 1 0 2.5 0a1.25 1.25 0 1 0 -2.5 0M194.22 305.52a1.25 1.25 0 1 0 2.5 0a1.25 1.25 0 1 0 -2.5 0M206.90 305.44a1.25 1.25 0 1 0 2.5 0a1.25 1.25 0 1 0 -2.5 0M219.65 305.38a1.25 1.25 0 1 0 2.5 0a1.25 1.25 0 1 0 -2.5 0M232.46 305.32a1.25 1.25 0 1 0 2.5 0a1.25 1.25 0 1 0 -2.5 0M245.34 305.25a1.25 1.25 0 1 0 2.5 0a1.25 1.25 0 1 0 -2.5 0M258.28 305.19a1.25 1.25 0 1 0 2.5 0a1.25 1.25 0 1 0 -2.5 0M271.27 305.13a1.25 1.25 0 1 0 2.5 0a1.25 1.25 0 1 0 -2.5 0M284.31 305.06a1.25 1.25 0 1 0 2.5 0a1.25 1.25 0 1 0 -2.5 0M297.39 305.00a1.25 1.25 0 1 0 2.5 0a1.25 1.25 0 1 0 -2.5 0M310.52 304.93a1.25 1.25 0 1 0 2.5 0a1.25 1.25 0 1 0 -2.5 0M323.68 304.87a1.25 1.25 0 1 0 2.5 0a1.25 1.25 0 1 0 -2.5 0M336.87 304.80a1.25 1.25 0 1 0 2.5 0a1.25 1.25 0 1 0 -2.5 0M350.09 304.73a1.25 1.25 0 1 0 2.5 0a1.25 1.25 0 1 0 -2.5 0M363.34 304.63a1.25 1.25 0 1 0 2.5 0a1.25 1.25 0 1 0 -2.5 0M376.60 304.53a1.25 1.25 0 1 0 2.5 0a1.25 1.25 0 1 0 -2.5 0M389.88 304.43a1.25 1.25 0 1 0 2.5 0a1.25 1.25 0 1 0 -2.5 0M403.17 304.32a1.25 1.25 0 1 0 2.5 0a1.25 1.25 0 1 0 -2.5 0M416.47 304.22a1.25 1.25 0 1 0 2.5 0a1.25 1.25 0 1 0 -2.5 0M429.77 304.12a1.25 1.25 0 1 0 2.5 0a1.25 1.25 0 1 0 -2.5 0M443.07 304.02a1.25 1.25 0 1 0 2.5 0a1.25 1.25 0 1 0 -2.5 0M456.36 303.92a1.25 1.25 0 1 0 2.5 0a1.25 1.25 0 1 0 -2.5 0M469.64 303.81a1.25 1.25 0 1 0 2.5 0a1.25 1.25 0 1 0 -2.5 0M162.85 314.13a1.25 1.25 0 1 0 2.5 0a1.25 1.25 0 1 0 -2.5 0M175.34 314.04a1.25 1.25 0 1 0 2.5 0a1.25 1.25 0 1 0 -2.5 0M187.90 313.95a1.25 1.25 0 1 0 2.5 0a1.25 1.25 0 1 0 -2.5 0M200.55 313.87a1.25 1.25 0 1 0 2.5 0a1.25 1.25 0 1 0 -2.5 0M213.26 313.82a1.25 1.25 0 1 0 2.5 0a1.25 1.25 0 1 0 -2.5 0M226.05 313.77a1.25 1.25 0 1 0 2.5 0a1.25 1.25 0 1 0 -2.5 0M238.89 313.71a1.25 1.25 0 1 0 2.5 0a1.25 1.25 0 1 0 -2.5 0M251.80 313.66a1.25 1.25 0 1 0 2.5 0a1.25 1.25 0 1 0 -2.5 0M264.77 313.61a1.25 1.25 0 1 0 2.5 0a1.25 1.25 0 1 0 -2.5 0M277.78 313.55a1.25 1.25 0 1 0 2.5 0a1.25 1.25 0 1 0 -2.5 0M290.84 313.50a1.25 1.25 0 1 0 2.5 0a1.25 1.25 0 1 0 -2.5 0M303.95 313.45a1.25 1.25 0 1 0 2.5 0a1.25 1.25 0 1 0 -2.5 0M317.09 313.39a1.25 1.25 0 1 0 2.5 0a1.25 1.25 0 1 0 -2.5 0M330.27 313.34a1.25 1.25 0 1 0 2.5 0a1.25 1.25 0 1 0 -2.5 0M343.48 313.28a1.25 1.25 0 1 0 2.5 0a1.25 1.25 0 1 0 -2.5 0M356.71 313.21a1.25 1.25 0 1 0 2.5 0a1.25 1.25 0 1 0 -2.5 0M369.97 313.11a1.25 1.25 0 1 0 2.5 0a1.25 1.25 0 1 0 -2.5 0M383.24 313.02a1.25 1.25 0 1 0 2.5 0a1.25 1.25 0 1 0 -2.5 0M396.53 312.92a1.25 1.25 0 1 0 2.5 0a1.25 1.25 0 1 0 -2.5 0M409.82 312.83a1.25 1.25 0 1 0 2.5 0a1.25 1.25 0 1 0 -2.5 0M423.12 312.73a1.25 1.25 0 1 0 2.5 0a1.25 1.25 0 1 0 -2.5 0M436.42 312.64a1.25 1.25 0 1 0 2.5 0a1.25 1.25 0 1 0 -2.5 0M449.71 312.55a1.25 1.25 0 1 0 2.5 0a1.25 1.25 0 1 0 -2.5 0M463.00 312.45a1.25 1.25 0 1 0 2.5 0a1.25 1.25 0 1 0 -2.5 0M476.28 312.36a1.25 1.25 0 1 0 2.5 0a1.25 1.25 0 1 0 -2.5 0M169.09 322.46a1.25 1.25 0 1 0 2.5 0a1.25 1.25 0 1 0 -2.5 0M181.61 322.38a1.25 1.25 0 1 0 2.5 0a1.25 1.25 0 1 0 -2.5 0M194.22 322.30a1.25 1.25 0 1 0 2.5 0a1.25 1.25 0 1 0 -2.5 0M206.90 322.24a1.25 1.25 0 1 0 2.5 0a1.25 1.25 0 1 0 -2.5 0M219.65 322.20a1.25 1.25 0 1 0 2.5 0a1.25 1.25 0 1 0 -2.5 0M232.46 322.16a1.25 1.25 0 1 0 2.5 0a1.25 1.25 0 1 0 -2.5 0M245.34 322.12a1.25 1.25 0 1 0 2.5 0a1.25 1.25 0 1 0 -2.5 0M258.28 322.08a1.25 1.25 0 1 0 2.5 0a1.25 1.25 0 1 0 -2.5 0M271.27 322.03a1.25 1.25 0 1 0 2.5 0a1.25 1.25 0 1 0 -2.5 0M284.31 321.99a1.25 1.25 0 1 0 2.5 0a1.25 1.25 0 1 0 -2.5 0M297.39 321.95a1.25 1.25 0 1 0 2.5 0a1.25 1.25 0 1 0 -2.5 0M310.52 321.91a1.25 1.25 0 1 0 2.5 0a1.25 1.25 0 1 0 -2.5 0M323.68 321.86a1.25 1.25 0 1 0 2.5 0a1.25 1.25 0 1 0 -2.5 0M336.87 321.82a1.25 1.25 0 1 0 2.5 0a1.25 1.25 0 1 0 -2.5 0M350.09 321.77a1.25 1.25 0 1 0 2.5 0a1.25 1.25 0 1 0 -2.5 0M363.34 321.69a1.25 1.25 0 1 0 2.5 0a1.25 1.25 0 1 0 -2.5 0M376.60 321.60a1.25 1.25 0 1 0 2.5 0a1.25 1.25 0 1 0 -2.5 0M389.88 321.51a1.25 1.25 0 1 0 2.5 0a1.25 1.25 0 1 0 -2.5 0M403.17 321.43a1.25 1.25 0 1 0 2.5 0a1.25 1.25 0 1 0 -2.5 0M416.47 321.34a1.25 1.25 0 1 0 2.5 0a1.25 1.25 0 1 0 -2.5 0M429.77 321.25a1.25 1.25 0 1 0 2.5 0a1.25 1.25 0 1 0 -2.5 0M443.07 321.17a1.25 1.25 0 1 0 2.5 0a1.25 1.25 0 1 0 -2.5 0M456.36 321.08a1.25 1.25 0 1 0 2.5 0a1.25 1.25 0 1 0 -2.5 0M469.64 320.99a1.25 1.25 0 1 0 2.5 0a1.25 1.25 0 1 0 -2.5 0M162.85 330.88a1.25 1.25 0 1 0 2.5 0a1.25 1.25 0 1 0 -2.5 0M175.34 330.80a1.25 1.25 0 1 0 2.5 0a1.25 1.25 0 1 0 -2.5 0M187.90 330.73a1.25 1.25 0 1 0 2.5 0a1.25 1.25 0 1 0 -2.5 0M200.55 330.66a1.25 1.25 0 1 0 2.5 0a1.25 1.25 0 1 0 -2.5 0M213.26 330.63a1.25 1.25 0 1 0 2.5 0a1.25 1.25 0 1 0 -2.5 0M226.05 330.60a1.25 1.25 0 1 0 2.5 0a1.25 1.25 0 1 0 -2.5 0M238.89 330.57a1.25 1.25 0 1 0 2.5 0a1.25 1.25 0 1 0 -2.5 0M251.80 330.53a1.25 1.25 0 1 0 2.5 0a1.25 1.25 0 1 0 -2.5 0M264.77 330.50a1.25 1.25 0 1 0 2.5 0a1.25 1.25 0 1 0 -2.5 0M277.78 330.47a1.25 1.25 0 1 0 2.5 0a1.25 1.25 0 1 0 -2.5 0M290.84 330.44a1.25 1.25 0 1 0 2.5 0a1.25 1.25 0 1 0 -2.5 0M303.95 330.41a1.25 1.25 0 1 0 2.5 0a1.25 1.25 0 1 0 -2.5 0M317.09 330.38a1.25 1.25 0 1 0 2.5 0a1.25 1.25 0 1 0 -2.5 0M330.27 330.34a1.25 1.25 0 1 0 2.5 0a1.25 1.25 0 1 0 -2.5 0M343.48 330.31a1.25 1.25 0 1 0 2.5 0a1.25 1.25 0 1 0 -2.5 0M356.71 330.25a1.25 1.25 0 1 0 2.5 0a1.25 1.25 0 1 0 -2.5 0M369.97 330.17a1.25 1.25 0 1 0 2.5 0a1.25 1.25 0 1 0 -2.5 0M383.24 330.10a1.25 1.25 0 1 0 2.5 0a1.25 1.25 0 1 0 -2.5 0M396.53 330.02a1.25 1.25 0 1 0 2.5 0a1.25 1.25 0 1 0 -2.5 0M409.82 329.94a1.25 1.25 0 1 0 2.5 0a1.25 1.25 0 1 0 -2.5 0M423.12 329.86a1.25 1.25 0 1 0 2.5 0a1.25 1.25 0 1 0 -2.5 0M436.42 329.78a1.25 1.25 0 1 0 2.5 0a1.25 1.25 0 1 0 -2.5 0M449.71 329.70a1.25 1.25 0 1 0 2.5 0a1.25 1.25 0 1 0 -2.5 0M463.00 329.62a1.25 1.25 0 1 0 2.5 0a1.25 1.25 0 1 0 -2.5 0M476.28 329.55a1.25 1.25 0 1 0 2.5 0a1.25 1.25 0 1 0 -2.5 0M169.09 339.21a1.25 1.25 0 1 0 2.5 0a1.25 1.25 0 1 0 -2.5 0M181.61 339.15a1.25 1.25 0 1 0 2.5 0a1.25 1.25 0 1 0 -2.5 0M194.22 339.08a1.25 1.25 0 1 0 2.5 0a1.25 1.25 0 1 0 -2.5 0M206.90 339.04a1.25 1.25 0 1 0 2.5 0a1.25 1.25 0 1 0 -2.5 0M219.65 339.02a1.25 1.25 0 1 0 2.5 0a1.25 1.25 0 1 0 -2.5 0M232.46 339.00a1.25 1.25 0 1 0 2.5 0a1.25 1.25 0 1 0 -2.5 0M245.34 338.98a1.25 1.25 0 1 0 2.5 0a1.25 1.25 0 1 0 -2.5 0M258.28 338.96a1.25 1.25 0 1 0 2.5 0a1.25 1.25 0 1 0 -2.5 0M271.27 338.94a1.25 1.25 0 1 0 2.5 0a1.25 1.25 0 1 0 -2.5 0M284.31 338.92a1.25 1.25 0 1 0 2.5 0a1.25 1.25 0 1 0 -2.5 0M297.39 338.90a1.25 1.25 0 1 0 2.5 0a1.25 1.25 0 1 0 -2.5 0M310.52 338.88a1.25 1.25 0 1 0 2.5 0a1.25 1.25 0 1 0 -2.5 0M323.68 338.86a1.25 1.25 0 1 0 2.5 0a1.25 1.25 0 1 0 -2.5 0M336.87 338.84a1.25 1.25 0 1 0 2.5 0a1.25 1.25 0 1 0 -2.5 0M350.09 338.81a1.25 1.25 0 1 0 2.5 0a1.25 1.25 0 1 0 -2.5 0M363.34 338.74a1.25 1.25 0 1 0 2.5 0a1.25 1.25 0 1 0 -2.5 0M376.60 338.67a1.25 1.25 0 1 0 2.5 0a1.25 1.25 0 1 0 -2.5 0M389.88 338.60a1.25 1.25 0 1 0 2.5 0a1.25 1.25 0 1 0 -2.5 0M403.17 338.53a1.25 1.25 0 1 0 2.5 0a1.25 1.25 0 1 0 -2.5 0M416.47 338.46a1.25 1.25 0 1 0 2.5 0a1.25 1.25 0 1 0 -2.5 0M429.77 338.39a1.25 1.25 0 1 0 2.5 0a1.25 1.25 0 1 0 -2.5 0M443.07 338.32a1.25 1.25 0 1 0 2.5 0a1.25 1.25 0 1 0 -2.5 0M456.36 338.25a1.25 1.25 0 1 0 2.5 0a1.25 1.25 0 1 0 -2.5 0M469.64 338.18a1.25 1.25 0 1 0 2.5 0a1.25 1.25 0 1 0 -2.5 0M162.85 347.62a1.25 1.25 0 1 0 2.5 0a1.25 1.25 0 1 0 -2.5 0M175.34 347.56a1.25 1.25 0 1 0 2.5 0a1.25 1.25 0 1 0 -2.5 0M187.90 347.50a1.25 1.25 0 1 0 2.5 0a1.25 1.25 0 1 0 -2.5 0M200.55 347.45a1.25 1.25 0 1 0 2.5 0a1.25 1.25 0 1 0 -2.5 0M213.26 347.44a1.25 1.25 0 1 0 2.5 0a1.25 1.25 0 1 0 -2.5 0M226.05 347.43a1.25 1.25 0 1 0 2.5 0a1.25 1.25 0 1 0 -2.5 0M238.89 347.42a1.25 1.25 0 1 0 2.5 0a1.25 1.25 0 1 0 -2.5 0M251.80 347.41a1.25 1.25 0 1 0 2.5 0a1.25 1.25 0 1 0 -2.5 0M264.77 347.40a1.25 1.25 0 1 0 2.5 0a1.25 1.25 0 1 0 -2.5 0M277.78 347.39a1.25 1.25 0 1 0 2.5 0a1.25 1.25 0 1 0 -2.5 0M290.84 347.38a1.25 1.25 0 1 0 2.5 0a1.25 1.25 0 1 0 -2.5 0M303.95 347.37a1.25 1.25 0 1 0 2.5 0a1.25 1.25 0 1 0 -2.5 0M317.09 347.36a1.25 1.25 0 1 0 2.5 0a1.25 1.25 0 1 0 -2.5 0M330.27 347.35a1.25 1.25 0 1 0 2.5 0a1.25 1.25 0 1 0 -2.5 0M343.48 347.34a1.25 1.25 0 1 0 2.5 0a1.25 1.25 0 1 0 -2.5 0M356.71 347.30a1.25 1.25 0 1 0 2.5 0a1.25 1.25 0 1 0 -2.5 0M369.97 347.24a1.25 1.25 0 1 0 2.5 0a1.25 1.25 0 1 0 -2.5 0M383.24 347.18a1.25 1.25 0 1 0 2.5 0a1.25 1.25 0 1 0 -2.5 0M396.53 347.11a1.25 1.25 0 1 0 2.5 0a1.25 1.25 0 1 0 -2.5 0M409.82 347.05a1.25 1.25 0 1 0 2.5 0a1.25 1.25 0 1 0 -2.5 0M423.12 346.99a1.25 1.25 0 1 0 2.5 0a1.25 1.25 0 1 0 -2.5 0M436.42 346.92a1.25 1.25 0 1 0 2.5 0a1.25 1.25 0 1 0 -2.5 0M449.71 346.86a1.25 1.25 0 1 0 2.5 0a1.25 1.25 0 1 0 -2.5 0M463.00 346.80a1.25 1.25 0 1 0 2.5 0a1.25 1.25 0 1 0 -2.5 0M476.28 346.73a1.25 1.25 0 1 0 2.5 0a1.25 1.25 0 1 0 -2.5 0M169.09 355.96a1.25 1.25 0 1 0 2.5 0a1.25 1.25 0 1 0 -2.5 0M181.61 355.91a1.25 1.25 0 1 0 2.5 0a1.25 1.25 0 1 0 -2.5 0M194.22 355.86a1.25 1.25 0 1 0 2.5 0a1.25 1.25 0 1 0 -2.5 0M206.90 355.84a1.25 1.25 0 1 0 2.5 0a1.25 1.25 0 1 0 -2.5 0M219.65 355.84a1.25 1.25 0 1 0 2.5 0a1.25 1.25 0 1 0 -2.5 0M232.46 355.85a1.25 1.25 0 1 0 2.5 0a1.25 1.25 0 1 0 -2.5 0M245.34 355.85a1.25 1.25 0 1 0 2.5 0a1.25 1.25 0 1 0 -2.5 0M258.28 355.85a1.25 1.25 0 1 0 2.5 0a1.25 1.25 0 1 0 -2.5 0M271.27 355.85a1.25 1.25 0 1 0 2.5 0a1.25 1.25 0 1 0 -2.5 0M284.31 355.85a1.25 1.25 0 1 0 2.5 0a1.25 1.25 0 1 0 -2.5 0M297.39 355.85a1.25 1.25 0 1 0 2.5 0a1.25 1.25 0 1 0 -2.5 0M310.52 355.85a1.25 1.25 0 1 0 2.5 0a1.25 1.25 0 1 0 -2.5 0M323.68 355.86a1.25 1.25 0 1 0 2.5 0a1.25 1.25 0 1 0 -2.5 0M336.87 355.86a1.25 1.25 0 1 0 2.5 0a1.25 1.25 0 1 0 -2.5 0M350.09 355.85a1.25 1.25 0 1 0 2.5 0a1.25 1.25 0 1 0 -2.5 0M363.34 355.80a1.25 1.25 0 1 0 2.5 0a1.25 1.25 0 1 0 -2.5 0M376.60 355.74a1.25 1.25 0 1 0 2.5 0a1.25 1.25 0 1 0 -2.5 0M389.88 355.69a1.25 1.25 0 1 0 2.5 0a1.25 1.25 0 1 0 -2.5 0M403.17 355.63a1.25 1.25 0 1 0 2.5 0a1.25 1.25 0 1 0 -2.5 0M416.47 355.58a1.25 1.25 0 1 0 2.5 0a1.25 1.25 0 1 0 -2.5 0M429.77 355.52a1.25 1.25 0 1 0 2.5 0a1.25 1.25 0 1 0 -2.5 0M443.07 355.47a1.25 1.25 0 1 0 2.5 0a1.25 1.25 0 1 0 -2.5 0M456.36 355.41a1.25 1.25 0 1 0 2.5 0a1.25 1.25 0 1 0 -2.5 0M469.64 355.36a1.25 1.25 0 1 0 2.5 0a1.25 1.25 0 1 0 -2.5 0M162.85 364.36a1.25 1.25 0 1 0 2.5 0a1.25 1.25 0 1 0 -2.5 0M175.34 364.32a1.25 1.25 0 1 0 2.5 0a1.25 1.25 0 1 0 -2.5 0M187.90 364.27a1.25 1.25 0 1 0 2.5 0a1.25 1.25 0 1 0 -2.5 0M200.55 364.24a1.25 1.25 0 1 0 2.5 0a1.25 1.25 0 1 0 -2.5 0M213.26 364.25a1.25 1.25 0 1 0 2.5 0a1.25 1.25 0 1 0 -2.5 0M226.05 364.26a1.25 1.25 0 1 0 2.5 0a1.25 1.25 0 1 0 -2.5 0M238.89 364.27a1.25 1.25 0 1 0 2.5 0a1.25 1.25 0 1 0 -2.5 0M251.80 364.28a1.25 1.25 0 1 0 2.5 0a1.25 1.25 0 1 0 -2.5 0M264.77 364.30a1.25 1.25 0 1 0 2.5 0a1.25 1.25 0 1 0 -2.5 0M277.78 364.31a1.25 1.25 0 1 0 2.5 0a1.25 1.25 0 1 0 -2.5 0M290.84 364.32a1.25 1.25 0 1 0 2.5 0a1.25 1.25 0 1 0 -2.5 0M303.95 364.33a1.25 1.25 0 1 0 2.5 0a1.25 1.25 0 1 0 -2.5 0M317.09 364.35a1.25 1.25 0 1 0 2.5 0a1.25 1.25 0 1 0 -2.5 0M330.27 364.36a1.25 1.25 0 1 0 2.5 0a1.25 1.25 0 1 0 -2.5 0M343.48 364.37a1.25 1.25 0 1 0 2.5 0a1.25 1.25 0 1 0 -2.5 0M356.71 364.35a1.25 1.25 0 1 0 2.5 0a1.25 1.25 0 1 0 -2.5 0M369.97 364.30a1.25 1.25 0 1 0 2.5 0a1.25 1.25 0 1 0 -2.5 0M383.24 364.25a1.25 1.25 0 1 0 2.5 0a1.25 1.25 0 1 0 -2.5 0M396.53 364.21a1.25 1.25 0 1 0 2.5 0a1.25 1.25 0 1 0 -2.5 0M409.82 364.16a1.25 1.25 0 1 0 2.5 0a1.25 1.25 0 1 0 -2.5 0M423.12 364.11a1.25 1.25 0 1 0 2.5 0a1.25 1.25 0 1 0 -2.5 0M436.42 364.07a1.25 1.25 0 1 0 2.5 0a1.25 1.25 0 1 0 -2.5 0M449.71 364.02a1.25 1.25 0 1 0 2.5 0a1.25 1.25 0 1 0 -2.5 0M463.00 363.97a1.25 1.25 0 1 0 2.5 0a1.25 1.25 0 1 0 -2.5 0M476.28 363.92a1.25 1.25 0 1 0 2.5 0a1.25 1.25 0 1 0 -2.5 0M169.09 372.72a1.25 1.25 0 1 0 2.5 0a1.25 1.25 0 1 0 -2.5 0M181.61 372.68a1.25 1.25 0 1 0 2.5 0a1.25 1.25 0 1 0 -2.5 0M194.22 372.64a1.25 1.25 0 1 0 2.5 0a1.25 1.25 0 1 0 -2.5 0M206.90 372.64a1.25 1.25 0 1 0 2.5 0a1.25 1.25 0 1 0 -2.5 0M219.65 372.66a1.25 1.25 0 1 0 2.5 0a1.25 1.25 0 1 0 -2.5 0M232.46 372.69a1.25 1.25 0 1 0 2.5 0a1.25 1.25 0 1 0 -2.5 0M245.34 372.71a1.25 1.25 0 1 0 2.5 0a1.25 1.25 0 1 0 -2.5 0M258.28 372.73a1.25 1.25 0 1 0 2.5 0a1.25 1.25 0 1 0 -2.5 0M271.27 372.76a1.25 1.25 0 1 0 2.5 0a1.25 1.25 0 1 0 -2.5 0M284.31 372.78a1.25 1.25 0 1 0 2.5 0a1.25 1.25 0 1 0 -2.5 0M297.39 372.80a1.25 1.25 0 1 0 2.5 0a1.25 1.25 0 1 0 -2.5 0M310.52 372.83a1.25 1.25 0 1 0 2.5 0a1.25 1.25 0 1 0 -2.5 0M323.68 372.85a1.25 1.25 0 1 0 2.5 0a1.25 1.25 0 1 0 -2.5 0M336.87 372.87a1.25 1.25 0 1 0 2.5 0a1.25 1.25 0 1 0 -2.5 0M350.09 372.89a1.25 1.25 0 1 0 2.5 0a1.25 1.25 0 1 0 -2.5 0M363.34 372.85a1.25 1.25 0 1 0 2.5 0a1.25 1.25 0 1 0 -2.5 0M376.60 372.81a1.25 1.25 0 1 0 2.5 0a1.25 1.25 0 1 0 -2.5 0M389.88 372.77a1.25 1.25 0 1 0 2.5 0a1.25 1.25 0 1 0 -2.5 0M403.17 372.74a1.25 1.25 0 1 0 2.5 0a1.25 1.25 0 1 0 -2.5 0M416.47 372.70a1.25 1.25 0 1 0 2.5 0a1.25 1.25 0 1 0 -2.5 0M429.77 372.66a1.25 1.25 0 1 0 2.5 0a1.25 1.25 0 1 0 -2.5 0M443.07 372.62a1.25 1.25 0 1 0 2.5 0a1.25 1.25 0 1 0 -2.5 0M456.36 372.58a1.25 1.25 0 1 0 2.5 0a1.25 1.25 0 1 0 -2.5 0M469.64 372.54a1.25 1.25 0 1 0 2.5 0a1.25 1.25 0 1 0 -2.5 0M162.85 381.11a1.25 1.25 0 1 0 2.5 0a1.25 1.25 0 1 0 -2.5 0M175.34 381.08a1.25 1.25 0 1 0 2.5 0a1.25 1.25 0 1 0 -2.5 0M187.90 381.05a1.25 1.25 0 1 0 2.5 0a1.25 1.25 0 1 0 -2.5 0M200.55 381.03a1.25 1.25 0 1 0 2.5 0a1.25 1.25 0 1 0 -2.5 0M213.26 381.06a1.25 1.25 0 1 0 2.5 0a1.25 1.25 0 1 0 -2.5 0M226.05 381.09a1.25 1.25 0 1 0 2.5 0a1.25 1.25 0 1 0 -2.5 0M238.89 381.13a1.25 1.25 0 1 0 2.5 0a1.25 1.25 0 1 0 -2.5 0M251.80 381.16a1.25 1.25 0 1 0 2.5 0a1.25 1.25 0 1 0 -2.5 0M264.77 381.19a1.25 1.25 0 1 0 2.5 0a1.25 1.25 0 1 0 -2.5 0M277.78 381.23a1.25 1.25 0 1 0 2.5 0a1.25 1.25 0 1 0 -2.5 0M290.84 381.26a1.25 1.25 0 1 0 2.5 0a1.25 1.25 0 1 0 -2.5 0M303.95 381.30a1.25 1.25 0 1 0 2.5 0a1.25 1.25 0 1 0 -2.5 0M317.09 381.33a1.25 1.25 0 1 0 2.5 0a1.25 1.25 0 1 0 -2.5 0M330.27 381.37a1.25 1.25 0 1 0 2.5 0a1.25 1.25 0 1 0 -2.5 0M343.48 381.40a1.25 1.25 0 1 0 2.5 0a1.25 1.25 0 1 0 -2.5 0M356.71 381.40a1.25 1.25 0 1 0 2.5 0a1.25 1.25 0 1 0 -2.5 0M369.97 381.37a1.25 1.25 0 1 0 2.5 0a1.25 1.25 0 1 0 -2.5 0M383.24 381.33a1.25 1.25 0 1 0 2.5 0a1.25 1.25 0 1 0 -2.5 0M396.53 381.30a1.25 1.25 0 1 0 2.5 0a1.25 1.25 0 1 0 -2.5 0M409.82 381.27a1.25 1.25 0 1 0 2.5 0a1.25 1.25 0 1 0 -2.5 0M423.12 381.24a1.25 1.25 0 1 0 2.5 0a1.25 1.25 0 1 0 -2.5 0M436.42 381.21a1.25 1.25 0 1 0 2.5 0a1.25 1.25 0 1 0 -2.5 0M449.71 381.18a1.25 1.25 0 1 0 2.5 0a1.25 1.25 0 1 0 -2.5 0M463.00 381.14a1.25 1.25 0 1 0 2.5 0a1.25 1.25 0 1 0 -2.5 0M476.28 381.11a1.25 1.25 0 1 0 2.5 0a1.25 1.25 0 1 0 -2.5 0M169.09 389.47a1.25 1.25 0 1 0 2.5 0a1.25 1.25 0 1 0 -2.5 0M181.61 389.44a1.25 1.25 0 1 0 2.5 0a1.25 1.25 0 1 0 -2.5 0M194.22 389.42a1.25 1.25 0 1 0 2.5 0a1.25 1.25 0 1 0 -2.5 0M206.90 389.44a1.25 1.25 0 1 0 2.5 0a1.25 1.25 0 1 0 -2.5 0M219.65 389.49a1.25 1.25 0 1 0 2.5 0a1.25 1.25 0 1 0 -2.5 0M232.46 389.53a1.25 1.25 0 1 0 2.5 0a1.25 1.25 0 1 0 -2.5 0M245.34 389.58a1.25 1.25 0 1 0 2.5 0a1.25 1.25 0 1 0 -2.5 0M258.28 389.62a1.25 1.25 0 1 0 2.5 0a1.25 1.25 0 1 0 -2.5 0M271.27 389.67a1.25 1.25 0 1 0 2.5 0a1.25 1.25 0 1 0 -2.5 0M284.31 389.71a1.25 1.25 0 1 0 2.5 0a1.25 1.25 0 1 0 -2.5 0M297.39 389.76a1.25 1.25 0 1 0 2.5 0a1.25 1.25 0 1 0 -2.5 0M310.52 389.80a1.25 1.25 0 1 0 2.5 0a1.25 1.25 0 1 0 -2.5 0M323.68 389.85a1.25 1.25 0 1 0 2.5 0a1.25 1.25 0 1 0 -2.5 0M336.87 389.89a1.25 1.25 0 1 0 2.5 0a1.25 1.25 0 1 0 -2.5 0M350.09 389.93a1.25 1.25 0 1 0 2.5 0a1.25 1.25 0 1 0 -2.5 0M363.34 389.91a1.25 1.25 0 1 0 2.5 0a1.25 1.25 0 1 0 -2.5 0M376.60 389.88a1.25 1.25 0 1 0 2.5 0a1.25 1.25 0 1 0 -2.5 0M389.88 389.86a1.25 1.25 0 1 0 2.5 0a1.25 1.25 0 1 0 -2.5 0M403.17 389.84a1.25 1.25 0 1 0 2.5 0a1.25 1.25 0 1 0 -2.5 0M416.47 389.81a1.25 1.25 0 1 0 2.5 0a1.25 1.25 0 1 0 -2.5 0M429.77 389.79a1.25 1.25 0 1 0 2.5 0a1.25 1.25 0 1 0 -2.5 0M443.07 389.77a1.25 1.25 0 1 0 2.5 0a1.25 1.25 0 1 0 -2.5 0M456.36 389.74a1.25 1.25 0 1 0 2.5 0a1.25 1.25 0 1 0 -2.5 0M469.64 389.72a1.25 1.25 0 1 0 2.5 0a1.25 1.25 0 1 0 -2.5 0M162.85 397.85a1.25 1.25 0 1 0 2.5 0a1.25 1.25 0 1 0 -2.5 0M175.34 397.83a1.25 1.25 0 1 0 2.5 0a1.25 1.25 0 1 0 -2.5 0M187.90 397.82a1.25 1.25 0 1 0 2.5 0a1.25 1.25 0 1 0 -2.5 0M200.55 397.81a1.25 1.25 0 1 0 2.5 0a1.25 1.25 0 1 0 -2.5 0M213.26 397.87a1.25 1.25 0 1 0 2.5 0a1.25 1.25 0 1 0 -2.5 0M226.05 397.92a1.25 1.25 0 1 0 2.5 0a1.25 1.25 0 1 0 -2.5 0M238.89 397.98a1.25 1.25 0 1 0 2.5 0a1.25 1.25 0 1 0 -2.5 0M251.80 398.04a1.25 1.25 0 1 0 2.5 0a1.25 1.25 0 1 0 -2.5 0M264.77 398.09a1.25 1.25 0 1 0 2.5 0a1.25 1.25 0 1 0 -2.5 0M277.78 398.15a1.25 1.25 0 1 0 2.5 0a1.25 1.25 0 1 0 -2.5 0M290.84 398.20a1.25 1.25 0 1 0 2.5 0a1.25 1.25 0 1 0 -2.5 0M303.95 398.26a1.25 1.25 0 1 0 2.5 0a1.25 1.25 0 1 0 -2.5 0M317.09 398.32a1.25 1.25 0 1 0 2.5 0a1.25 1.25 0 1 0 -2.5 0M330.27 398.37a1.25 1.25 0 1 0 2.5 0a1.25 1.25 0 1 0 -2.5 0M343.48 398.43a1.25 1.25 0 1 0 2.5 0a1.25 1.25 0 1 0 -2.5 0M356.71 398.44a1.25 1.25 0 1 0 2.5 0a1.25 1.25 0 1 0 -2.5 0M369.97 398.43a1.25 1.25 0 1 0 2.5 0a1.25 1.25 0 1 0 -2.5 0M383.24 398.41a1.25 1.25 0 1 0 2.5 0a1.25 1.25 0 1 0 -2.5 0M396.53 398.40a1.25 1.25 0 1 0 2.5 0a1.25 1.25 0 1 0 -2.5 0M409.82 398.38a1.25 1.25 0 1 0 2.5 0a1.25 1.25 0 1 0 -2.5 0M423.12 398.37a1.25 1.25 0 1 0 2.5 0a1.25 1.25 0 1 0 -2.5 0M436.42 398.35a1.25 1.25 0 1 0 2.5 0a1.25 1.25 0 1 0 -2.5 0M449.71 398.33a1.25 1.25 0 1 0 2.5 0a1.25 1.25 0 1 0 -2.5 0M463.00 398.32a1.25 1.25 0 1 0 2.5 0a1.25 1.25 0 1 0 -2.5 0M476.28 398.30a1.25 1.25 0 1 0 2.5 0a1.25 1.25 0 1 0 -2.5 0M169.09 406.22a1.25 1.25 0 1 0 2.5 0a1.25 1.25 0 1 0 -2.5 0M181.61 406.21a1.25 1.25 0 1 0 2.5 0a1.25 1.25 0 1 0 -2.5 0M194.22 406.20a1.25 1.25 0 1 0 2.5 0a1.25 1.25 0 1 0 -2.5 0M206.90 406.24a1.25 1.25 0 1 0 2.5 0a1.25 1.25 0 1 0 -2.5 0M219.65 406.31a1.25 1.25 0 1 0 2.5 0a1.25 1.25 0 1 0 -2.5 0M232.46 406.37a1.25 1.25 0 1 0 2.5 0a1.25 1.25 0 1 0 -2.5 0M245.34 406.44a1.25 1.25 0 1 0 2.5 0a1.25 1.25 0 1 0 -2.5 0M258.28 406.51a1.25 1.25 0 1 0 2.5 0a1.25 1.25 0 1 0 -2.5 0M271.27 406.57a1.25 1.25 0 1 0 2.5 0a1.25 1.25 0 1 0 -2.5 0M284.31 406.64a1.25 1.25 0 1 0 2.5 0a1.25 1.25 0 1 0 -2.5 0M297.39 406.71a1.25 1.25 0 1 0 2.5 0a1.25 1.25 0 1 0 -2.5 0M310.52 406.78a1.25 1.25 0 1 0 2.5 0a1.25 1.25 0 1 0 -2.5 0M323.68 406.84a1.25 1.25 0 1 0 2.5 0a1.25 1.25 0 1 0 -2.5 0M336.87 406.91a1.25 1.25 0 1 0 2.5 0a1.25 1.25 0 1 0 -2.5 0M350.09 406.97a1.25 1.25 0 1 0 2.5 0a1.25 1.25 0 1 0 -2.5 0M363.34 406.96a1.25 1.25 0 1 0 2.5 0a1.25 1.25 0 1 0 -2.5 0M376.60 406.96a1.25 1.25 0 1 0 2.5 0a1.25 1.25 0 1 0 -2.5 0M389.88 406.95a1.25 1.25 0 1 0 2.5 0a1.25 1.25 0 1 0 -2.5 0M403.17 406.94a1.25 1.25 0 1 0 2.5 0a1.25 1.25 0 1 0 -2.5 0M416.47 406.93a1.25 1.25 0 1 0 2.5 0a1.25 1.25 0 1 0 -2.5 0M429.77 406.92a1.25 1.25 0 1 0 2.5 0a1.25 1.25 0 1 0 -2.5 0M443.07 406.92a1.25 1.25 0 1 0 2.5 0a1.25 1.25 0 1 0 -2.5 0M456.36 406.91a1.25 1.25 0 1 0 2.5 0a1.25 1.25 0 1 0 -2.5 0M469.64 406.90a1.25 1.25 0 1 0 2.5 0a1.25 1.25 0 1 0 -2.5 0M162.85 414.59a1.25 1.25 0 1 0 2.5 0a1.25 1.25 0 1 0 -2.5 0M175.34 414.59a1.25 1.25 0 1 0 2.5 0a1.25 1.25 0 1 0 -2.5 0M187.90 414.59a1.25 1.25 0 1 0 2.5 0a1.25 1.25 0 1 0 -2.5 0M200.55 414.60a1.25 1.25 0 1 0 2.5 0a1.25 1.25 0 1 0 -2.5 0M213.26 414.68a1.25 1.25 0 1 0 2.5 0a1.25 1.25 0 1 0 -2.5 0M226.05 414.76a1.25 1.25 0 1 0 2.5 0a1.25 1.25 0 1 0 -2.5 0M238.89 414.83a1.25 1.25 0 1 0 2.5 0a1.25 1.25 0 1 0 -2.5 0M251.80 414.91a1.25 1.25 0 1 0 2.5 0a1.25 1.25 0 1 0 -2.5 0M264.77 414.99a1.25 1.25 0 1 0 2.5 0a1.25 1.25 0 1 0 -2.5 0M277.78 415.07a1.25 1.25 0 1 0 2.5 0a1.25 1.25 0 1 0 -2.5 0M290.84 415.14a1.25 1.25 0 1 0 2.5 0a1.25 1.25 0 1 0 -2.5 0M303.95 415.22a1.25 1.25 0 1 0 2.5 0a1.25 1.25 0 1 0 -2.5 0M317.09 415.30a1.25 1.25 0 1 0 2.5 0a1.25 1.25 0 1 0 -2.5 0M330.27 415.38a1.25 1.25 0 1 0 2.5 0a1.25 1.25 0 1 0 -2.5 0M343.48 415.46a1.25 1.25 0 1 0 2.5 0a1.25 1.25 0 1 0 -2.5 0M356.71 415.49a1.25 1.25 0 1 0 2.5 0a1.25 1.25 0 1 0 -2.5 0M369.97 415.49a1.25 1.25 0 1 0 2.5 0a1.25 1.25 0 1 0 -2.5 0M383.24 415.49a1.25 1.25 0 1 0 2.5 0a1.25 1.25 0 1 0 -2.5 0M396.53 415.49a1.25 1.25 0 1 0 2.5 0a1.25 1.25 0 1 0 -2.5 0M409.82 415.49a1.25 1.25 0 1 0 2.5 0a1.25 1.25 0 1 0 -2.5 0M423.12 415.49a1.25 1.25 0 1 0 2.5 0a1.25 1.25 0 1 0 -2.5 0M436.42 415.49a1.25 1.25 0 1 0 2.5 0a1.25 1.25 0 1 0 -2.5 0M449.71 415.49a1.25 1.25 0 1 0 2.5 0a1.25 1.25 0 1 0 -2.5 0M463.00 415.49a1.25 1.25 0 1 0 2.5 0a1.25 1.25 0 1 0 -2.5 0M476.28 415.49a1.25 1.25 0 1 0 2.5 0a1.25 1.25 0 1 0 -2.5 0M169.09 423.05a1.25 1.25 0 1 0 2.5 0a1.25 1.25 0 1 0 -2.5 0M181.61 423.05a1.25 1.25 0 1 0 2.5 0a1.25 1.25 0 1 0 -2.5 0M194.22 423.05a1.25 1.25 0 1 0 2.5 0a1.25 1.25 0 1 0 -2.5 0M206.90 423.10a1.25 1.25 0 1 0 2.5 0a1.25 1.25 0 1 0 -2.5 0M219.65 423.18a1.25 1.25 0 1 0 2.5 0a1.25 1.25 0 1 0 -2.5 0M232.46 423.25a1.25 1.25 0 1 0 2.5 0a1.25 1.25 0 1 0 -2.5 0M245.34 423.33a1.25 1.25 0 1 0 2.5 0a1.25 1.25 0 1 0 -2.5 0M258.28 423.41a1.25 1.25 0 1 0 2.5 0a1.25 1.25 0 1 0 -2.5 0M271.27 423.49a1.25 1.25 0 1 0 2.5 0a1.25 1.25 0 1 0 -2.5 0M284.31 423.56a1.25 1.25 0 1 0 2.5 0a1.25 1.25 0 1 0 -2.5 0M297.39 423.64a1.25 1.25 0 1 0 2.5 0a1.25 1.25 0 1 0 -2.5 0M310.52 423.72a1.25 1.25 0 1 0 2.5 0a1.25 1.25 0 1 0 -2.5 0M323.68 423.80a1.25 1.25 0 1 0 2.5 0a1.25 1.25 0 1 0 -2.5 0M336.87 423.88a1.25 1.25 0 1 0 2.5 0a1.25 1.25 0 1 0 -2.5 0M350.09 423.95a1.25 1.25 0 1 0 2.5 0a1.25 1.25 0 1 0 -2.5 0M363.34 423.95a1.25 1.25 0 1 0 2.5 0a1.25 1.25 0 1 0 -2.5 0M376.60 423.95a1.25 1.25 0 1 0 2.5 0a1.25 1.25 0 1 0 -2.5 0M389.88 423.95a1.25 1.25 0 1 0 2.5 0a1.25 1.25 0 1 0 -2.5 0M403.17 423.95a1.25 1.25 0 1 0 2.5 0a1.25 1.25 0 1 0 -2.5 0M416.47 423.95a1.25 1.25 0 1 0 2.5 0a1.25 1.25 0 1 0 -2.5 0M429.77 423.95a1.25 1.25 0 1 0 2.5 0a1.25 1.25 0 1 0 -2.5 0M443.07 423.95a1.25 1.25 0 1 0 2.5 0a1.25 1.25 0 1 0 -2.5 0M456.36 423.95a1.25 1.25 0 1 0 2.5 0a1.25 1.25 0 1 0 -2.5 0M469.64 423.95a1.25 1.25 0 1 0 2.5 0a1.25 1.25 0 1 0 -2.5 0" fill="#141414" clip-path="url(#mc)"/>
<rect x="160.8" y="205.3" width="318.7" height="220.39999999999998" fill="none" stroke="#222" stroke-width="1.1"/>
<rect x="166.3" y="211.3" width="307.3" height="208.0" fill="none" stroke="#333" stroke-width="0.9"/>
<path d="M160.8 203.6 V209.2 Q160.8 212.6 164.2 212.6 Q167.6 212.6 167.6 209.2 V203.6" fill="none" stroke="#151515" stroke-width="1.7"/>
<path d="M472.2 203.6 V211.8 M479.3 203.6 V213" fill="none" stroke="#151515" stroke-width="1.9"/>
<path d="M472.2 211.5 Q475.7 214.5 479.3 211.5" fill="none" stroke="#151515" stroke-width="1.4"/>
<path d="M161 417.5 Q164.5 414.8 168 417.5 V426" fill="none" stroke="#151515" stroke-width="1.7"/>
<path d="M472.3 417.5 V425.8" fill="none" stroke="#151515" stroke-width="1.9"/>
<rect x="150.30" y="173.30" width="7.20" height="439.50" rx="0" fill="none" stroke="#444" stroke-width="1.0"/>
<rect x="482.30" y="173.30" width="8.40" height="439.90" rx="0" fill="none" stroke="#444" stroke-width="1.0"/>
<rect x="149.40" y="198.30" width="18.20" height="5.20" rx="0" fill="#fff" stroke="#444" stroke-width="1.0"/>
<rect x="149.30" y="427.30" width="18.40" height="4.30" rx="0" fill="#fff" stroke="#444" stroke-width="1.0"/>
<rect x="473.00" y="198.50" width="17.80" height="4.80" rx="0" fill="#fff" stroke="#444" stroke-width="1.0"/>
<rect x="472.70" y="425.70" width="17.90" height="6.50" rx="0" fill="#fff" stroke="#444" stroke-width="1.0"/>
<line x1="150.30" y1="198.30" x2="150.30" y2="203.50" stroke="#555" stroke-width="0.8" />
<line x1="150.30" y1="427.30" x2="150.30" y2="431.60" stroke="#555" stroke-width="0.8" />
<line x1="157.50" y1="198.30" x2="157.50" y2="203.50" stroke="#555" stroke-width="0.8" />
<line x1="157.50" y1="427.30" x2="157.50" y2="431.60" stroke="#555" stroke-width="0.8" />
<line x1="160.80" y1="198.30" x2="160.80" y2="203.50" stroke="#555" stroke-width="0.8" />
<line x1="160.80" y1="427.30" x2="160.80" y2="431.60" stroke="#555" stroke-width="0.8" />
<line x1="479.50" y1="198.50" x2="479.50" y2="203.30" stroke="#555" stroke-width="0.8" />
<line x1="479.50" y1="425.70" x2="479.50" y2="432.20" stroke="#555" stroke-width="0.8" />
<line x1="482.30" y1="198.50" x2="482.30" y2="203.30" stroke="#555" stroke-width="0.8" />
<line x1="482.30" y1="425.70" x2="482.30" y2="432.20" stroke="#555" stroke-width="0.8" />
<line x1="488.60" y1="198.50" x2="488.60" y2="203.30" stroke="#555" stroke-width="0.8" />
<line x1="488.60" y1="425.70" x2="488.60" y2="432.20" stroke="#555" stroke-width="0.8" />
<line x1="143.00" y1="463.40" x2="470.00" y2="463.40" stroke="#333" stroke-width="1.0" />
<path d="M142.5 463.4 V509.6 Q142.5 511.3 144.2 511.3 H182.5 Q184.2 511.3 184.2 513 V562.7 Q184.2 564.4 182.5 564.4 H144.2 Q142.3 564.4 142.3 566.3 V610.8 Q142.3 612.7 144.2 612.7" fill="none" stroke="#333" stroke-width="1"/>
<line x1="142.50" y1="465.10" x2="171.50" y2="465.10" stroke="#666" stroke-width="0.8" />
<line x1="142.50" y1="509.60" x2="182.50" y2="509.60" stroke="#666" stroke-width="0.8" />
<line x1="142.50" y1="567.00" x2="183.00" y2="567.00" stroke="#999" stroke-width="0.9" />
<line x1="142.50" y1="609.90" x2="196.00" y2="609.90" stroke="#999" stroke-width="0.9" />
<line x1="171.50" y1="463.40" x2="171.50" y2="511.30" stroke="#666" stroke-width="0.8" />
<line x1="175.10" y1="463.40" x2="175.10" y2="511.30" stroke="#666" stroke-width="0.8" />
<line x1="171.40" y1="564.40" x2="171.40" y2="612.70" stroke="#666" stroke-width="0.8" />
<line x1="175.10" y1="564.40" x2="175.10" y2="612.70" stroke="#666" stroke-width="0.8" />
<line x1="152.60" y1="511.30" x2="152.60" y2="564.40" stroke="#666" stroke-width="1.6" />
<line x1="162.20" y1="511.30" x2="162.20" y2="564.40" stroke="#666" stroke-width="0.8" />
<rect x="143.50" y="475.60" width="2.40" height="23.60" fill="#c4c4c4"/>
<rect x="148.50" y="475.60" width="1.50" height="23.60" fill="#bbb"/>
<rect x="153.20" y="475.60" width="1.70" height="23.60" fill="#888"/>
<rect x="163.00" y="475.60" width="3.00" height="23.60" fill="#ddd"/>
<rect x="142.50" y="473.60" width="28.10" height="27.60" rx="2.5" fill="none" stroke="#333" stroke-width="1.0"/>
<line x1="142.50" y1="475.50" x2="170.60" y2="475.50" stroke="#555" stroke-width="0.8" />
<line x1="142.50" y1="499.30" x2="170.60" y2="499.30" stroke="#555" stroke-width="0.8" />
<line x1="147.60" y1="475.50" x2="147.60" y2="499.30" stroke="#555" stroke-width="0.8" />
<line x1="151.50" y1="475.50" x2="151.50" y2="499.30" stroke="#666" stroke-width="0.8" />
<line x1="162.20" y1="475.50" x2="162.20" y2="499.30" stroke="#444" stroke-width="0.8" />
<line x1="166.10" y1="475.50" x2="166.10" y2="499.30" stroke="#555" stroke-width="0.8" />
<line x1="169.00" y1="475.50" x2="169.00" y2="499.30" stroke="#666" stroke-width="0.8" />
<rect x="143.70" y="577.40" width="2.40" height="23.20" fill="#c4c4c4"/>
<rect x="148.70" y="577.40" width="1.50" height="23.20" fill="#bbb"/>
<rect x="153.40" y="577.40" width="1.70" height="23.20" fill="#888"/>
<rect x="163.20" y="577.40" width="3.00" height="23.20" fill="#ddd"/>
<rect x="142.70" y="575.40" width="27.70" height="27.20" rx="2.5" fill="none" stroke="#333" stroke-width="1.0"/>
<line x1="142.70" y1="577.30" x2="170.40" y2="577.30" stroke="#555" stroke-width="0.8" />
<line x1="142.70" y1="600.70" x2="170.40" y2="600.70" stroke="#555" stroke-width="0.8" />
<line x1="147.80" y1="577.30" x2="147.80" y2="600.70" stroke="#555" stroke-width="0.8" />
<line x1="151.70" y1="577.30" x2="151.70" y2="600.70" stroke="#666" stroke-width="0.8" />
<line x1="162.40" y1="577.30" x2="162.40" y2="600.70" stroke="#444" stroke-width="0.8" />
<line x1="166.30" y1="577.30" x2="166.30" y2="600.70" stroke="#555" stroke-width="0.8" />
<line x1="169.20" y1="577.30" x2="169.20" y2="600.70" stroke="#666" stroke-width="0.8" />
<rect x="505.50" y="526.60" width="3.10" height="22.70" fill="#d0d0d0"/>
<rect x="474.10" y="524.60" width="37.70" height="26.70" rx="2.5" fill="none" stroke="#333" stroke-width="1.0"/>
<rect x="474.60" y="525.10" width="36.70" height="2.10" fill="#444"/>
<rect x="474.60" y="548.50" width="36.70" height="2.30" fill="#444"/>
<line x1="476.50" y1="526.60" x2="476.50" y2="549.30" stroke="#555" stroke-width="0.8" />
<line x1="478.30" y1="526.60" x2="478.30" y2="549.30" stroke="#777" stroke-width="0.8" />
<line x1="487.50" y1="526.60" x2="487.50" y2="549.30" stroke="#444" stroke-width="0.8" />
<line x1="496.40" y1="526.60" x2="496.40" y2="549.30" stroke="#777" stroke-width="0.8" />
<line x1="505.50" y1="526.60" x2="505.50" y2="549.30" stroke="#444" stroke-width="0.8" />
<line x1="508.60" y1="526.60" x2="508.60" y2="549.30" stroke="#555" stroke-width="0.8" />
<path d="M470 463.4 V511.9 Q470 514 472.1 514 H511.8 V561.6 H472.1 Q470 561.6 470 563.7 V610.5 Q470 612.6 467.9 612.6" fill="none" stroke="#333" stroke-width="1"/>
<line x1="470.50" y1="516.40" x2="511.80" y2="516.40" stroke="#666" stroke-width="0.8" />
<line x1="470.50" y1="559.30" x2="511.80" y2="559.30" stroke="#666" stroke-width="0.8" />
<line x1="478.30" y1="514.00" x2="478.30" y2="561.60" stroke="#888" stroke-width="0.8" />
<line x1="496.40" y1="514.00" x2="496.40" y2="561.60" stroke="#888" stroke-width="0.8" />
<line x1="144.00" y1="612.60" x2="241.30" y2="612.60" stroke="#333" stroke-width="1.2" />
<line x1="196.00" y1="609.90" x2="241.00" y2="609.90" stroke="#999" stroke-width="0.9" />
<path d="M241.3 612.6 L249.4 603.2 H285.0 L294.8 612.6 H313.5" fill="none" stroke="#333" stroke-width="1.1"/>
<path d="M243.8 612.3 L250.6 605.2 H284.0 L292.4 612.3" fill="none" stroke="#666" stroke-width="0.8"/>
<path d="M341.3 612.6 H358.0 L363.8 604.2 H405.8 L412.6 612.6 H468" fill="none" stroke="#333" stroke-width="1.1"/>
<path d="M360.4 612.3 L365.0 606.2 H404.6 L410.2 612.3" fill="none" stroke="#666" stroke-width="0.8"/>
<line x1="412.60" y1="609.90" x2="468.00" y2="609.90" stroke="#999" stroke-width="0.9" />
<line x1="294.80" y1="609.90" x2="313.50" y2="609.90" stroke="#999" stroke-width="0.9" />
<line x1="341.30" y1="609.90" x2="358.00" y2="609.90" stroke="#999" stroke-width="0.9" />
<line x1="195.80" y1="479.30" x2="195.80" y2="612.30" stroke="#888" stroke-width="1.4" />
<line x1="204.40" y1="479.30" x2="204.40" y2="612.30" stroke="#333" stroke-width="0.9" />
<line x1="449.90" y1="479.30" x2="449.90" y2="612.30" stroke="#666" stroke-width="0.8" />
<line x1="458.00" y1="479.30" x2="458.00" y2="612.30" stroke="#666" stroke-width="0.8" />
<path d="M428.6 463.4 H201.4 Q193.4 463.4 193.4 471.45 Q193.4 479.5 201.4 479.5 H428.6" fill="none" stroke="#555" stroke-width="1"/>
<line x1="202.00" y1="465.70" x2="426.20" y2="465.70" stroke="#888" stroke-width="1.2" />
<line x1="202.00" y1="468.50" x2="426.20" y2="468.50" stroke="#333" stroke-width="1.0" />
<line x1="204.40" y1="474.40" x2="426.20" y2="474.40" stroke="#8a8a8a" stroke-width="0.9" />
<line x1="204.40" y1="477.40" x2="426.20" y2="477.40" stroke="#8a8a8a" stroke-width="0.9" />
<line x1="425.80" y1="463.40" x2="425.80" y2="479.50" stroke="#444" stroke-width="0.9" />
<line x1="427.60" y1="463.40" x2="427.60" y2="479.50" stroke="#666" stroke-width="0.8" />
<line x1="429.40" y1="463.40" x2="429.40" y2="480.10" stroke="#444" stroke-width="0.9" />
<line x1="429.40" y1="464.50" x2="470.00" y2="464.50" stroke="#888" stroke-width="0.8" />
<line x1="468.50" y1="464.50" x2="468.50" y2="478.00" stroke="#888" stroke-width="0.8" />
<rect x="429.4" y="477.6" width="40.6" height="2.2" fill="#a8a8a8"/>
<line x1="429.40" y1="480.10" x2="470.00" y2="480.10" stroke="#444" stroke-width="0.9" />
<line x1="204.40" y1="463.40" x2="204.40" y2="468.50" stroke="#444" stroke-width="0.8" />
<rect x="201.20" y="461.00" width="21.90" height="2.40" rx="0" fill="#666" stroke="#555" stroke-width="0.6"/>
<circle cx="212.9" cy="488.7" r="6.6" fill="none" stroke="#333" stroke-width="1.5"/>
<circle cx="441.2" cy="488.8" r="6.6" fill="none" stroke="#333" stroke-width="1.5"/>
<circle cx="212.9" cy="586.2" r="6.6" fill="none" stroke="#333" stroke-width="1.5"/>
<circle cx="441.0" cy="586.8" r="6.6" fill="none" stroke="#333" stroke-width="1.5"/>
<rect x="223.3" y="481.2" width="206.9" height="41.2" rx="3" fill="none" stroke="#8a8a8a" stroke-width="2.0"/>
<rect x="224.7" y="482.6" width="204.3" height="38.3" rx="2" fill="none" stroke="#333" stroke-width="0.7"/>
<rect x="219.3" y="525.6" width="215.7" height="54.60000000000002" rx="16" fill="none" stroke="#444" stroke-width="0.9"/>
<rect x="222.3" y="528.6" width="209.7" height="48.60000000000002" rx="13.0" fill="none" stroke="#444" stroke-width="0.9"/>
<rect x="225.3" y="531.6" width="203.7" height="42.60000000000002" rx="10.0" fill="none" stroke="#444" stroke-width="0.9"/>
<rect x="228.3" y="534.6" width="197.7" height="36.60000000000002" rx="7.0" fill="none" stroke="#444" stroke-width="0.9"/>
<line x1="238.80" y1="525.60" x2="238.80" y2="580.20" stroke="#555" stroke-width="0.8" />
<line x1="415.60" y1="525.60" x2="415.60" y2="580.20" stroke="#555" stroke-width="0.8" />
<rect x="231.3" y="536.3" width="64.39999999999998" height="31.300000000000068" rx="7" fill="#fff" stroke="#555" stroke-width="1"/>
<rect x="234.3" y="539.3" width="58.39999999999998" height="25.300000000000068" rx="5" fill="#fff" stroke="#1a1a1a" stroke-width="1.3"/>
<rect x="359.0" y="536.3" width="64.5" height="31.300000000000068" rx="7" fill="#fff" stroke="#555" stroke-width="1"/>
<rect x="362.0" y="539.3" width="58.5" height="25.300000000000068" rx="5" fill="#fff" stroke="#1a1a1a" stroke-width="1.3"/>
<line x1="295.50" y1="546.20" x2="359.00" y2="546.20" stroke="#444" stroke-width="0.9" />
<line x1="295.50" y1="544.60" x2="359.00" y2="544.60" stroke="#777" stroke-width="0.7" />
<line x1="295.50" y1="557.80" x2="359.00" y2="557.80" stroke="#444" stroke-width="0.9" />
<line x1="295.50" y1="559.40" x2="359.00" y2="559.40" stroke="#777" stroke-width="0.7" />
<rect x="243.5" y="582.3" width="49.2" height="17.4" rx="2.5" fill="#fff" stroke="#333" stroke-width="1"/>
<text x="268.4" y="587.7" font-size="6.6" font-weight="bold" text-anchor="middle" fill="#999" stroke="#1a1a1a" stroke-width="0.45" textLength="33" lengthAdjust="spacingAndGlyphs">Hydrocade</text>
<circle cx="286.4" cy="583.3" r="0.8" fill="#222"/>
<text x="268.50" y="591.80" font-size="3.4" font-weight="bold" text-anchor="middle" fill="#111" stroke="#111" stroke-width="0.55" textLength="32.5" lengthAdjust="spacingAndGlyphs">Water-Filled Barrier System</text>
<rect x="254.2" y="593.5" width="28.6" height="6.0" fill="#fff" stroke="#222" stroke-width="1"/>
<text x="268.50" y="598.30" font-size="4.8" font-weight="bold" text-anchor="middle" fill="#111" stroke="#111" stroke-width="0.45" textLength="26" lengthAdjust="spacingAndGlyphs">PATENTED</text>
<rect x="361.4" y="582.3" width="49.3" height="17.5" rx="2.5" fill="#fff" stroke="#333" stroke-width="1"/>
<text x="386.00" y="585.40" font-size="3.6" font-weight="bold" text-anchor="middle" fill="#111" stroke="#111" stroke-width="0.55" textLength="33.7" lengthAdjust="spacingAndGlyphs">Instructions For Use</text>
<text x="385.70" y="590.20" font-size="4.0" font-weight="bold" text-anchor="middle" fill="#111" stroke="#111" stroke-width="0.6" textLength="34.9" lengthAdjust="spacingAndGlyphs">Place/Connect/Fill</text>
<rect x="370.7" y="592.3" width="31.0" height="5.8" rx="1" fill="#e8e8e8" stroke="#222" stroke-width="1"/>
<text x="386.20" y="596.90" font-size="4.6" font-weight="bold" text-anchor="middle" fill="#111" stroke="#111" stroke-width="0.4" textLength="28" lengthAdjust="spacingAndGlyphs">PATENTED</text>
<path d="M314.4 611.5 V605.1 A12.8 12.8 0 0 1 340.0 605.1 V611.5" fill="none" stroke="#7a7a7a" stroke-width="2.6"/>
<path d="M323.5 592.6 L327.2 595.2 L330.9 592.6" fill="none" stroke="#555" stroke-width="1"/>
<circle cx="327.2" cy="603.2" r="7.2" fill="#fff" stroke="#333" stroke-width="0.9"/>
<circle cx="327.2" cy="603.2" r="5.0" fill="#111"/>
<rect x="325.6" y="601.6" width="3.2" height="3.2" fill="#fff" transform="rotate(45 327.2 603.2)"/>
</svg>
</body></html>
